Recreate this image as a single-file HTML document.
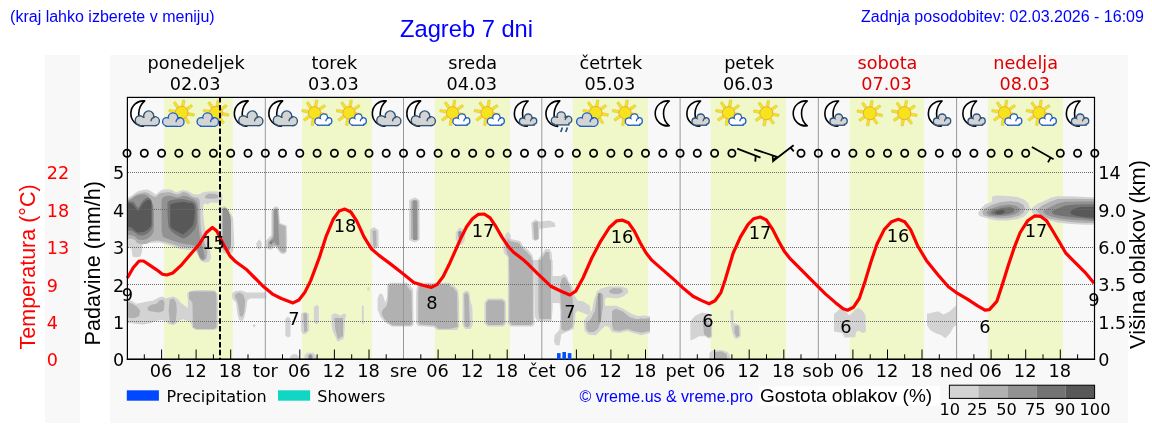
<!DOCTYPE html>
<html><head><meta charset="utf-8"><title>Zagreb 7 dni</title><style>html,body{margin:0;padding:0;background:#fff;width:1152px;height:443px;overflow:hidden}</style></head><body>
<svg width="1152" height="443" viewBox="0 0 1152 443" style="display:block">
<defs><clipPath id="plotclip"><rect x="127.5" y="160" width="966.5" height="199"/></clipPath></defs>
<rect width="1152" height="443" fill="#fff"/>
<text x="10.1" y="21.5" font-family="'Liberation Sans',Arial,sans-serif" font-size="16" fill="#0000ff">(kraj lahko izberete v meniju)</text>
<text x="400" y="37" font-family="'Liberation Sans',Arial,sans-serif" font-size="23.7" fill="#0000ff">Zagreb 7 dni</text>
<text x="861" y="21.5" font-family="'Liberation Sans',Arial,sans-serif" font-size="16" fill="#0000ff">Zadnja posodobitev: 02.03.2026 - 16:09</text>
<rect x="45" y="55" width="35" height="368" fill="#f8f8f8"/>
<rect x="110" y="55" width="1018" height="368" fill="#f8f8f8"/>
<rect x="164.1" y="97.5" width="68.6" height="261.5" fill="#f0f7c8"/>
<rect x="302" y="97.5" width="70.0" height="261.5" fill="#f0f7c8"/>
<rect x="434.8" y="97.5" width="75.1" height="261.5" fill="#f0f7c8"/>
<rect x="572.8" y="97.5" width="75.1" height="261.5" fill="#f0f7c8"/>
<rect x="710.8" y="97.5" width="75.1" height="261.5" fill="#f0f7c8"/>
<rect x="849.8" y="97.5" width="74.1" height="261.5" fill="#f0f7c8"/>
<rect x="987.8" y="97.5" width="75.1" height="261.5" fill="#f0f7c8"/>
<g clip-path="url(#plotclip)"><polygon points="220.9,207.4 224.1,206.0 227.6,208.4 230.6,213.5 233.0,217.6 233.7,230.8 234.3,245.0 232.6,252.1 228.6,254.2 223.5,253.1 220.9,249.1" fill="#d3d3d3"/>
<polygon points="127.0,197.5 130.0,196.8 134.0,194.0 136.5,192.0 139.0,190.8 143.0,190.0 147.0,189.5 150.0,190.5 153.5,193.0 156.0,194.5 159.5,191.5 162.0,189.8 166.0,189.2 170.0,189.4 173.0,190.5 176.0,192.5 179.0,191.3 183.0,190.1 187.0,190.8 190.0,192.2 193.0,194.0 196.0,194.6 199.0,194.6 201.5,193.0 204.0,191.9 208.0,191.4 213.0,191.2 217.5,191.6 219.5,192.5 222.3,194.5 222.4,200.5 220.0,202.8 214.0,202.7 211.0,202.2 207.5,204.5 204.8,203.2 203.5,205.0 203.0,210.0 203.5,217.0 204.5,225.0 205.5,232.0 207.0,240.0 209.0,247.0 210.5,253.0 211.0,258.0 209.0,262.0 205.0,262.5 201.0,261.0 198.0,255.0 196.0,251.0 190.0,250.0 180.0,249.0 172.0,246.0 165.0,244.0 160.0,242.5 152.0,242.8 145.0,243.5 142.5,245.0 142.0,252.0 140.5,256.5 136.0,257.5 132.5,256.5 131.5,248.5 127.0,247.5" fill="#d3d3d3"/>
<polygon points="127.0,299.6 131.1,300.6 136.1,303.7 141.2,302.7 147.3,301.6 153.4,300.6 158.5,297.6 162.6,296.6 165.6,298.6 168.6,297.6 173.7,296.6 177.8,299.0 180.8,302.7 184.9,305.7 187.9,307.7 187.9,299.6 186.9,293.5 190.0,290.9 196.1,290.1 208.3,290.1 214.8,290.5 217.4,293.5 218.0,300.6 218.0,327.0 216.4,329.1 212.3,330.1 196.1,330.1 192.4,328.1 191.0,323.0 187.9,320.9 182.9,318.9 178.8,320.9 175.8,324.0 172.7,325.0 168.6,324.0 165.6,320.9 161.5,319.9 155.4,320.9 151.4,323.0 143.3,324.6 136.1,324.0 131.1,323.0 127.0,323.4" fill="#d3d3d3"/>
<polygon points="271.3,210.2 275.3,206.1 278.7,207.4 280.1,223.0 284.1,224.4 286.8,225.7 287.2,240.6 286.8,251.5 284.1,254.2 280.7,253.5 278.0,250.1 275.3,246.7 272.6,248.8 269.9,250.1 267.2,248.8 265.6,246.0 265.8,240.6 268.5,237.9 271.3,235.2" fill="#d3d3d3"/>
<polygon points="256.4,243.3 259.1,239.3 261.8,242.7 261.5,247.4 259.1,249.4 256.6,247.4" fill="#d3d3d3"/>
<polygon points="232.0,293.5 235.1,290.9 241.2,290.5 246.3,292.5 266.2,292.5 266.6,298.6 250.3,298.6 247.3,300.6 246.3,308.8 244.2,317.9 242.2,320.9 239.1,319.9 237.1,312.8 236.1,302.7 232.4,298.6" fill="#d3d3d3"/>
<polygon points="252.8,325.0 254.4,324.0 255.8,325.4 254.4,327.4 252.8,326.6" fill="#d3d3d3"/>
<polygon points="285.3,318.9 287.9,316.5 290.5,318.9 290.5,336.2 287.9,337.6 285.3,335.6" fill="#d3d3d3"/>
<polygon points="301.1,313.8 304.8,311.8 308.8,313.8 309.2,330.1 306.8,333.5 303.1,334.2 301.1,331.1" fill="#d3d3d3"/>
<polygon points="313.9,306.7 317.0,304.7 318.8,306.7 318.8,323.0 316.3,324.6 313.9,322.0" fill="#d3d3d3"/>
<polygon points="331.6,314.9 334.6,313.2 339.9,314.9 339.9,341.3 337.3,341.3 335.6,337.2 332.6,331.1 331.6,325.0" fill="#d3d3d3"/>
<polygon points="370.1,229.8 374.1,227.1 378.6,230.4 378.6,247.0 375.6,249.1 372.1,248.1 370.1,245.0" fill="#d3d3d3"/>
<polygon points="409.1,200.3 414.8,197.3 419.6,200.3 419.6,239.9 414.8,242.6 409.1,239.9" fill="#d3d3d3"/>
<polygon points="387.1,284.4 389.8,282.8 407.0,282.8 410.1,285.4 413.1,289.5 413.5,325.0 411.1,326.6 391.8,326.6 387.7,324.0 383.7,320.9 380.6,316.9 377.6,309.8 377.6,298.6 379.6,293.5 382.7,294.5 384.7,300.6 385.7,302.7 387.1,296.6" fill="#d3d3d3"/>
<polygon points="417.2,285.4 420.2,282.8 449.9,282.8 449.9,330.1 437.5,330.1 433.5,327.0 418.2,326.0 416.2,323.0 416.2,292.5" fill="#d3d3d3"/>
<polygon points="340.0,315.9 344.1,313.2 346.1,314.9 345.1,318.9 344.1,337.2 342.0,340.2 340.0,339.2" fill="#d3d3d3"/>
<polygon points="361.9,305.7 363.6,305.1 364.0,324.0 361.9,324.0" fill="#d3d3d3"/>
<polygon points="367.4,287.4 369.5,287.4 369.5,290.5 367.4,290.5" fill="#d3d3d3"/>
<polygon points="455.7,232.8 459.1,227.7 463.2,228.8 465.2,233.8 464.6,240.9 461.8,245.0 458.1,244.0 455.7,238.9" fill="#d3d3d3"/>
<polygon points="503.2,247.0 504.9,234.9 507.9,231.8 510.5,234.4 510.9,238.9 520.1,240.9 523.1,246.0 528.2,250.1 532.3,255.2 534.3,263.3 534.9,270.0 507.9,270.0 507.9,257.2 503.8,253.1" fill="#d3d3d3"/>
<polygon points="531.3,222.7 535.3,219.6 539.4,221.6 549.5,220.6 554.6,222.7 555.6,226.7 547.5,227.7 539.4,228.8 539.0,238.9 535.3,240.9 532.3,238.9" fill="#d3d3d3"/>
<polygon points="537.4,260.2 540.4,256.2 545.5,249.1 549.5,249.1 551.6,253.1 552.6,270.0 536.3,270.0" fill="#d3d3d3"/>
<polygon points="450.0,284.4 454.1,285.4 458.1,290.5 459.1,300.6 459.1,327.0 457.1,330.1 450.0,330.1" fill="#d3d3d3"/>
<polygon points="462.6,293.5 465.8,290.5 469.3,292.1 470.3,300.6 472.3,306.7 472.8,325.0 470.3,329.1 465.2,329.1 462.6,325.0" fill="#d3d3d3"/>
<polygon points="484.5,302.7 487.6,298.6 502.8,298.6 505.9,301.6 505.9,324.0 503.2,326.6 487.6,326.6 484.5,323.4" fill="#d3d3d3"/>
<polygon points="507.9,260.0 534.9,260.0 534.3,324.6 532.3,326.6 510.9,326.6 507.9,324.0" fill="#d3d3d3"/>
<polygon points="534.9,260.0 552.6,260.0 552.6,308.8 551.6,320.9 537.4,320.9 534.9,316.9" fill="#d3d3d3"/>
<polygon points="551.5,276.0 561.0,276.0 562.0,290.0 561.0,303.0 551.5,303.0" fill="#d3d3d3"/>
<polygon points="554.6,335.2 557.7,332.1 559.9,332.1 559.9,345.3 555.6,345.3 554.0,341.3" fill="#d3d3d3"/>
<polygon points="560.3,276.3 564.0,273.8 567.4,277.3 568.4,281.3 572.5,286.4 573.5,293.5 577.6,300.6 583.7,301.6 589.8,305.7 590.8,312.8 587.7,314.9 582.7,312.8 577.6,310.8 575.6,312.8 574.9,323.0 573.5,329.1 566.4,332.1 561.3,334.2 560.3,341.3 558.3,345.3 555.2,343.3 555.2,335.2 559.3,330.1 560.3,320.9 560.3,310.8 559.3,300.6 558.3,290.5 559.3,280.3" fill="#d3d3d3"/>
<polygon points="583.7,320.9 586.7,316.9 591.8,310.8 593.8,300.6 596.9,291.5 600.9,288.4 609.1,286.4 621.3,286.4 627.4,288.4 628.4,292.5 623.3,296.6 617.2,298.6 607.0,297.6 605.0,299.6 605.0,305.7 610.1,305.7 616.2,305.7 623.3,308.8 631.4,313.8 637.5,315.9 649.9,315.9 649.9,333.1 641.6,335.2 633.5,333.1 627.4,331.1 619.2,333.1 612.1,332.1 609.1,327.0 605.0,326.0 600.9,330.1 595.9,335.2 588.8,334.8 584.7,331.1" fill="#d3d3d3"/>
<polygon points="640.0,315.9 646.1,315.3 649.1,318.9 649.1,330.1 646.1,333.1 640.0,333.1" fill="#d3d3d3"/>
<polygon points="690.4,320.9 694.9,315.9 702.0,312.4 709.1,313.8 712.1,318.9 712.1,337.2 709.1,338.8 705.0,336.2 698.9,336.2 693.8,339.2 690.4,340.2" fill="#d3d3d3"/>
<polygon points="730.4,311.8 731.8,309.8 733.5,310.8 733.5,323.0 738.5,324.6 740.6,327.0 740.6,336.2 737.5,338.8 734.5,338.2 732.4,333.1 731.0,325.0" fill="#d3d3d3"/>
<polygon points="834.0,314.5 834.7,313.5 839.1,309.4 841.3,305.0 843.5,308.6 845.7,311.6 849.4,315.2 853.0,312.3 855.2,309.4 858.9,307.9 862.6,310.8 865.5,315.2 865.8,332.1 862.6,332.9 858.9,330.7 856.0,332.1 855.2,337.3 844.2,337.6 842.8,332.9 836.9,332.1 834.0,331.4" fill="#d3d3d3"/>
<polygon points="927.0,313.8 933.1,312.4 938.2,311.2 943.3,314.4 949.4,311.8 955.5,305.7 956.5,306.7 956.5,325.0 953.5,327.0 950.4,333.1 945.3,338.2 941.3,335.2 935.2,333.1 930.1,330.1 927.0,325.0" fill="#d3d3d3"/>
<polygon points="978.1,213.2 980.8,208.4 984.9,204.4 991.7,201.7 992.3,196.3 997.1,195.6 1007.9,196.0 1017.4,196.9 1024.2,199.6 1028.2,203.0 1029.6,207.1 1030.3,209.1 1028.2,212.5 1024.2,216.6 1017.4,219.3 1007.9,220.4 997.1,220.6 990.3,219.3 983.5,217.2 979.5,215.9" fill="#d3d3d3"/>
<polygon points="1030.9,209.1 1033.7,206.4 1037.7,203.7 1045.8,200.3 1051.3,197.6 1056.7,196.3 1071.6,196.3 1085.1,196.9 1096.0,197.3 1096.0,224.7 1085.1,224.7 1071.6,224.0 1058.0,222.7 1045.8,219.3 1037.7,215.9 1032.3,213.2" fill="#d3d3d3"/>
<polygon points="709.4,353.1 712.3,350.4 721.5,349.9 727.6,351.9 730.0,355.5 730.0,360.4 709.4,360.4" fill="#d3d3d3"/>
<polygon points="290.3,356.3 293.1,354.0 297.0,354.4 298.9,357.2 298.9,360.1 290.3,360.1" fill="#d3d3d3"/>
<polygon points="304.6,355.3 307.5,352.8 313.2,352.8 316.1,356.3 316.1,360.1 304.6,360.1" fill="#d3d3d3"/>
<polygon points="205.2,195.8 208.3,193.8 214.4,193.8 218.0,195.2 218.0,197.9 213.3,198.7 208.3,198.7 205.2,197.9" fill="#b1b1b1"/>
<polygon points="127.0,199.5 131.0,198.0 134.5,195.5 137.0,194.0 140.0,193.0 145.0,192.3 148.0,193.0 151.0,195.0 153.5,196.5 156.0,197.0 158.5,194.5 161.0,193.0 165.0,192.5 170.0,192.3 174.0,193.5 177.0,194.5 180.0,193.8 183.0,192.0 187.0,192.8 190.0,195.0 193.0,197.0 196.0,197.5 198.0,198.0 199.5,200.0 200.0,204.0 200.3,212.0 200.5,222.0 201.0,230.0 203.0,238.0 205.5,245.0 207.5,252.0 206.5,259.0 203.0,261.0 200.0,259.0 197.5,253.0 195.0,248.0 188.0,247.5 180.0,246.5 172.0,244.0 165.0,242.0 158.0,240.5 152.0,241.0 146.0,244.0 140.0,244.0 137.0,243.0 135.0,240.0 131.0,238.5 127.0,239.0" fill="#b1b1b1"/>
<polygon points="127.0,301.6 132.1,303.7 137.2,306.7 140.2,310.8 139.2,315.9 135.1,317.9 130.0,317.9 127.0,316.9" fill="#b1b1b1"/>
<polygon points="147.3,307.7 151.4,304.7 156.5,303.7 159.5,300.6 163.2,299.6 164.6,303.7 163.6,310.8 159.5,312.4 153.4,311.8 148.3,310.8" fill="#b1b1b1"/>
<polygon points="169.7,299.6 173.7,298.6 176.2,302.7 176.8,310.8 175.8,320.9 172.7,324.0 169.7,320.9 168.6,310.8" fill="#b1b1b1"/>
<polygon points="189.0,292.5 192.0,291.5 214.4,291.5 216.4,293.5 216.4,327.0 214.4,329.1 196.1,329.1 193.0,327.0 192.4,302.7 189.0,298.6" fill="#b1b1b1"/>
<polygon points="272.6,210.2 275.6,207.9 278.0,208.8 279.1,223.7 281.4,225.1 285.5,226.4 285.9,251.5 282.8,252.8 280.1,250.8 277.3,246.7 274.6,245.4 269.9,248.1 267.9,246.7 267.9,242.0 271.3,238.6 272.6,235.9" fill="#b1b1b1"/>
<polygon points="235.1,294.5 239.1,292.5 243.2,294.5 245.2,300.6 244.2,312.8 242.2,316.9 239.8,315.9 238.5,306.7 237.1,300.6 235.1,297.6" fill="#b1b1b1"/>
<polygon points="303.5,313.8 306.8,313.2 307.2,331.1 304.2,332.1 303.5,320.9" fill="#b1b1b1"/>
<polygon points="334.6,317.9 339.9,317.9 339.9,339.2 337.7,338.2 335.2,329.1" fill="#b1b1b1"/>
<polygon points="372.5,230.8 376.2,230.4 376.6,246.0 373.5,247.0" fill="#b1b1b1"/>
<polygon points="411.1,201.3 418.2,201.3 418.2,238.9 411.1,238.9" fill="#b1b1b1"/>
<polygon points="388.8,284.8 406.0,284.4 408.1,287.4 411.5,291.5 412.1,324.0 410.1,325.4 392.8,325.4 388.8,323.0 384.3,318.9 381.6,313.8 382.7,309.8 386.3,306.3 387.7,301.6" fill="#b1b1b1"/>
<polygon points="418.8,286.4 421.3,284.4 449.9,284.4 449.9,328.7 438.5,328.7 434.5,325.4 419.6,324.6 418.2,322.0 418.2,292.5" fill="#b1b1b1"/>
<polygon points="340.0,317.9 343.0,317.9 343.0,336.2 340.0,337.2" fill="#b1b1b1"/>
<polygon points="505.9,247.0 507.9,237.9 509.9,240.9 519.1,243.0 522.1,248.1 526.8,252.1 531.3,257.2 532.9,270.0 509.3,270.0 508.9,257.2 506.9,253.1" fill="#b1b1b1"/>
<polygon points="533.3,222.7 537.8,221.6 538.4,238.9 534.3,239.9" fill="#b1b1b1"/>
<polygon points="540.4,261.3 545.5,252.1 549.1,252.1 551.0,270.0 539.4,270.0" fill="#b1b1b1"/>
<polygon points="450.0,286.4 453.0,287.4 457.1,292.5 457.7,327.0 450.0,328.7" fill="#b1b1b1"/>
<polygon points="464.2,294.5 466.7,292.5 468.7,295.6 469.9,325.0 467.9,327.4 464.6,326.0" fill="#b1b1b1"/>
<polygon points="486.2,303.1 488.6,300.2 502.4,300.2 504.4,302.7 504.4,323.0 502.4,325.0 488.6,325.0 486.2,323.0" fill="#b1b1b1"/>
<polygon points="509.3,260.0 532.9,260.0 532.9,323.0 530.9,325.0 512.0,325.0 509.3,322.0" fill="#b1b1b1"/>
<polygon points="538.4,260.0 551.0,260.0 551.0,318.9 539.4,318.9 538.4,312.8" fill="#b1b1b1"/>
<polygon points="561.9,278.3 564.8,277.3 567.4,281.3 570.5,287.4 572.1,294.5 573.5,310.8 572.5,327.0 568.4,330.1 564.4,331.1 561.3,329.1 561.3,310.8 560.3,296.6 560.3,284.4" fill="#b1b1b1"/>
<polygon points="586.3,323.0 590.8,318.9 594.9,310.8 596.9,296.6 599.9,292.5 603.0,294.5 603.0,306.7 600.9,320.9 597.9,329.1 593.8,332.1 588.8,332.1 586.3,329.1" fill="#b1b1b1"/>
<polygon points="609.1,290.5 613.1,288.0 621.3,288.4 623.3,291.5 619.2,294.1 613.1,294.1 609.5,292.5" fill="#b1b1b1"/>
<polygon points="612.1,310.8 616.2,308.8 623.3,311.8 629.4,316.9 635.5,318.9 641.6,318.9 649.9,317.9 649.9,331.1 641.6,332.7 633.5,331.1 627.4,329.1 619.2,331.1 613.5,330.1 612.1,325.0" fill="#b1b1b1"/>
<polygon points="640.0,317.9 647.7,319.9 647.7,330.1 640.0,331.1" fill="#b1b1b1"/>
<polygon points="703.0,323.0 707.0,322.0 711.1,325.0 711.1,336.2 708.1,337.2 704.0,334.2" fill="#b1b1b1"/>
<polygon points="734.5,326.0 738.5,325.4 739.5,335.2 736.5,337.2 734.5,333.1" fill="#b1b1b1"/>
<polygon points="982.2,211.8 984.9,208.4 991.7,205.1 999.8,202.3 1010.6,201.0 1018.8,202.3 1023.5,205.1 1024.9,208.4 1023.5,212.5 1018.8,215.9 1010.6,217.9 999.8,218.6 990.3,217.2 983.5,215.2" fill="#b1b1b1"/>
<polygon points="1036.4,210.5 1041.8,205.7 1049.9,201.7 1058.0,199.0 1071.6,198.7 1085.1,199.0 1096.0,199.0 1096.0,223.1 1085.1,223.1 1072.9,222.3 1059.4,220.6 1048.6,218.6 1040.4,215.2" fill="#b1b1b1"/>
<polygon points="714.2,351.9 721.5,351.4 726.4,353.8 727.6,360.4 714.2,360.4" fill="#b1b1b1"/>
<polygon points="222.5,208.4 225.5,207.4 228.2,210.5 230.2,215.6 231.0,220.6 231.0,245.0 229.6,250.1 225.5,251.1 222.5,248.1" fill="#929292"/>
<polygon points="127.0,200.5 131.0,199.5 134.0,197.0 137.0,195.5 141.0,194.6 145.0,194.6 148.0,196.0 150.0,199.0 152.0,202.0 153.5,206.0 154.0,215.0 154.0,225.0 153.5,232.0 151.0,236.0 147.0,239.0 143.0,240.0 138.0,239.5 135.0,236.5 131.0,235.0 127.0,235.0" fill="#929292"/>
<polygon points="161.5,200.0 163.0,197.3 166.0,196.0 170.0,195.8 174.0,196.8 177.0,197.5 180.0,197.0 183.0,195.5 187.0,196.2 191.0,198.0 194.0,199.5 196.5,201.5 198.0,205.0 198.2,212.0 198.3,222.0 199.0,230.0 200.0,238.0 202.0,245.0 204.0,252.0 204.8,258.0 202.5,260.0 199.5,257.0 197.5,250.0 195.5,246.0 190.0,244.5 182.0,243.5 175.0,241.5 168.0,239.0 163.0,237.0 161.5,230.0 161.5,215.0" fill="#929292"/>
<polygon points="274.0,209.5 277.3,209.2 278.3,224.4 279.4,244.7 277.3,245.4 274.0,242.0 271.3,244.7 269.2,243.3 270.6,240.6 273.3,238.6 274.0,233.9" fill="#929292"/>
<polygon points="412.7,200.3 416.8,200.3 417.2,239.9 413.1,239.9" fill="#929292"/>
<polygon points="458.1,231.8 461.2,230.8 462.6,234.9 461.2,238.9 458.5,237.9" fill="#929292"/>
<polygon points="597.9,293.5 600.5,292.9 600.9,322.0 598.3,322.6" fill="#929292"/>
<polygon points="986.3,212.5 990.3,209.1 999.8,205.7 1009.3,204.4 1016.0,205.7 1020.1,208.4 1019.4,211.8 1014.7,214.5 1006.6,215.9 997.1,216.6 989.0,215.5" fill="#929292"/>
<polygon points="1043.1,211.2 1048.6,207.8 1056.7,203.7 1064.8,201.7 1078.4,201.4 1096.0,201.4 1096.0,221.3 1085.1,220.6 1072.9,220.0 1060.7,218.6 1051.3,216.6 1045.8,214.5" fill="#929292"/>
<polygon points="308.4,355.3 310.7,354.0 312.6,355.9 312.2,360.1 308.4,360.1" fill="#929292"/>
<polygon points="127.0,202.0 131.0,201.5 134.0,202.0 136.0,205.5 138.0,208.0 139.5,206.0 141.5,202.5 144.0,199.5 147.0,197.5 149.5,198.0 151.5,200.5 152.5,206.0 152.5,215.0 152.5,226.0 151.0,230.0 147.5,233.5 143.0,235.5 138.0,235.0 135.0,232.5 131.0,230.5 127.0,230.5" fill="#737373"/>
<polygon points="167.5,202.0 170.0,200.2 175.0,199.5 180.0,199.0 184.0,199.3 188.0,200.3 192.0,201.0 195.0,203.0 196.5,207.0 196.7,215.0 196.5,224.0 195.0,229.0 191.5,233.0 187.0,237.0 183.0,238.5 179.0,236.5 175.0,234.0 171.0,231.0 168.5,227.0 167.5,215.0" fill="#737373"/>
<polygon points="269.6,242.3 271.0,241.4 272.1,242.8 271.0,244.2" fill="#737373"/>
<polygon points="990.3,212.5 994.4,209.8 1002.5,207.8 1010.6,207.1 1014.7,209.1 1013.3,212.5 1007.9,213.9 999.8,214.9 993.0,214.5" fill="#737373"/>
<polygon points="1051.3,211.8 1058.0,208.4 1064.8,205.7 1075.6,204.4 1096.0,204.1 1096.0,220.0 1085.1,218.6 1072.9,217.2 1062.1,215.9 1054.0,214.5" fill="#737373"/>
<polygon points="127.0,203.1 131.5,203.5 133.5,205.0 136.0,208.5 138.3,210.8 140.5,207.5 143.0,203.5 146.0,200.8 148.5,199.8 150.2,200.5 151.3,203.0 151.4,210.0 151.4,224.0 150.5,226.7 147.8,229.4 144.0,232.1 138.0,232.6 136.0,231.7 131.5,227.2 127.0,226.7" fill="#585858"/>
<polygon points="170.3,204.2 175.0,203.1 180.0,202.2 184.0,201.8 187.6,202.7 192.2,203.1 194.4,205.4 194.9,211.3 194.0,220.3 192.6,226.0 189.5,229.0 186.0,232.0 183.1,234.4 180.0,233.0 176.0,231.0 172.0,228.5 170.3,226.0" fill="#585858"/>
<polygon points="994.4,212.5 997.8,210.5 1003.2,209.5 1005.2,211.8 1002.5,213.9 997.1,214.5" fill="#585858"/>
<polygon points="1070.2,211.8 1074.3,208.4 1081.1,207.1 1096.0,207.1 1096.0,217.9 1086.5,217.2 1077.0,215.9 1071.6,214.5" fill="#585858"/></g>
<line x1="265.3" y1="97" x2="265.3" y2="359" stroke="#999" stroke-width="1"/>
<line x1="403.5" y1="97" x2="403.5" y2="359" stroke="#999" stroke-width="1"/>
<line x1="541.8" y1="97" x2="541.8" y2="359" stroke="#999" stroke-width="1"/>
<line x1="680.1" y1="97" x2="680.1" y2="359" stroke="#999" stroke-width="1"/>
<line x1="818.3" y1="97" x2="818.3" y2="359" stroke="#999" stroke-width="1"/>
<line x1="956.6" y1="97" x2="956.6" y2="359" stroke="#999" stroke-width="1"/>
<line x1="128" y1="321.5" x2="1094" y2="321.5" stroke="#6a6a6a" stroke-width="1" stroke-dasharray="1 1"/>
<line x1="128" y1="284.5" x2="1094" y2="284.5" stroke="#6a6a6a" stroke-width="1" stroke-dasharray="1 1"/>
<line x1="128" y1="247.5" x2="1094" y2="247.5" stroke="#6a6a6a" stroke-width="1" stroke-dasharray="1 1"/>
<line x1="128" y1="209.5" x2="1094" y2="209.5" stroke="#6a6a6a" stroke-width="1" stroke-dasharray="1 1"/>
<line x1="128" y1="172.5" x2="1094" y2="172.5" stroke="#6a6a6a" stroke-width="1" stroke-dasharray="1 1"/>
<polyline fill="none" stroke="#ff0000" stroke-width="3.2" stroke-linejoin="round" points="127.3,278.0 133.2,267.7 139.1,261.0 143.5,261.0 149.3,264.8 156.7,269.8 162.5,274.2 166.9,275.0 172.8,273.0 181.6,264.8 190.4,254.5 199.2,244.3 206.5,232.5 212.4,227.5 216.8,231.0 222.6,242.8 230.0,256.0 235.8,261.8 246.1,269.2 254.9,278.0 263.7,286.8 272.5,294.1 281.3,298.5 293.0,302.9 298.9,300.0 304.7,292.6 310.6,280.9 319.4,257.4 325.9,236.9 333.2,219.3 339.1,211.1 344.9,209.1 350.8,212.0 356.7,220.8 364.0,236.9 371.3,248.7 378.7,255.1 390.4,263.9 402.1,273.0 413.8,282.4 422.6,285.3 431.4,287.4 437.3,284.4 443.2,276.5 449.0,264.8 454.9,251.6 460.8,238.4 466.6,226.7 472.5,218.7 478.4,214.3 484.2,214.0 490.1,217.9 496.0,226.7 501.8,236.9 507.7,245.7 513.5,252.2 522.3,258.9 528.8,264.8 537.6,273.6 550.8,286.2 561.1,291.2 569.9,295.0 575.7,291.2 583.0,278.0 591.8,258.0 600.6,241.3 609.4,227.5 616.8,220.8 622.6,220.2 628.5,222.8 634.4,231.1 640.2,242.8 646.1,253.0 652.0,260.4 663.7,270.6 675.4,280.9 684.2,289.1 693.0,296.2 701.8,300.6 709.1,303.8 715.0,300.8 720.9,292.6 725.3,279.4 733.2,253.0 740.5,236.9 747.9,224.6 753.7,218.7 760.2,217.0 766.3,219.9 772.8,229.6 778.7,241.3 784.5,251.6 790.4,258.9 802.1,270.6 813.8,282.4 825.6,294.1 835.8,302.9 843.2,308.8 847.6,310.2 853.4,307.3 859.3,298.5 865.2,280.9 871.0,261.8 876.9,244.3 884.2,229.6 891.6,221.7 898.3,219.3 904.7,221.7 910.6,229.6 917.6,245.7 926.4,260.4 938.1,275.0 948.4,286.8 957.2,293.2 967.4,299.1 977.7,305.8 985.0,310.2 989.4,309.6 996.8,301.4 1002.6,283.8 1008.5,264.8 1014.4,247.2 1020.2,232.5 1027.6,220.8 1034.9,215.8 1040.8,216.4 1046.6,220.8 1052.5,230.5 1059.8,242.8 1065.7,253.0 1076.0,263.3 1084.8,272.1 1094.1,283.3"/>
<text transform="translate(127.5,301) scale(1.05,1)" font-family="'DejaVu Sans',sans-serif" font-size="17" text-anchor="middle" fill="#000">9</text>
<text transform="translate(213.5,248.7) scale(1.05,1)" font-family="'DejaVu Sans',sans-serif" font-size="17" text-anchor="middle" fill="#000">15</text>
<text transform="translate(294,325) scale(1.05,1)" font-family="'DejaVu Sans',sans-serif" font-size="17" text-anchor="middle" fill="#000">7</text>
<text transform="translate(345,232) scale(1.05,1)" font-family="'DejaVu Sans',sans-serif" font-size="17" text-anchor="middle" fill="#000">18</text>
<text transform="translate(432,309) scale(1.05,1)" font-family="'DejaVu Sans',sans-serif" font-size="17" text-anchor="middle" fill="#000">8</text>
<text transform="translate(483,237) scale(1.05,1)" font-family="'DejaVu Sans',sans-serif" font-size="17" text-anchor="middle" fill="#000">17</text>
<text transform="translate(570,318) scale(1.05,1)" font-family="'DejaVu Sans',sans-serif" font-size="17" text-anchor="middle" fill="#000">7</text>
<text transform="translate(622,243) scale(1.05,1)" font-family="'DejaVu Sans',sans-serif" font-size="17" text-anchor="middle" fill="#000">16</text>
<text transform="translate(708,327) scale(1.05,1)" font-family="'DejaVu Sans',sans-serif" font-size="17" text-anchor="middle" fill="#000">6</text>
<text transform="translate(760,239) scale(1.05,1)" font-family="'DejaVu Sans',sans-serif" font-size="17" text-anchor="middle" fill="#000">17</text>
<text transform="translate(846,333) scale(1.05,1)" font-family="'DejaVu Sans',sans-serif" font-size="17" text-anchor="middle" fill="#000">6</text>
<text transform="translate(898,242) scale(1.05,1)" font-family="'DejaVu Sans',sans-serif" font-size="17" text-anchor="middle" fill="#000">16</text>
<text transform="translate(985,333) scale(1.05,1)" font-family="'DejaVu Sans',sans-serif" font-size="17" text-anchor="middle" fill="#000">6</text>
<text transform="translate(1036,237) scale(1.05,1)" font-family="'DejaVu Sans',sans-serif" font-size="17" text-anchor="middle" fill="#000">17</text>
<text transform="translate(1094,305.8) scale(1.05,1)" font-family="'DejaVu Sans',sans-serif" font-size="17" text-anchor="middle" fill="#000">9</text>
<rect x="127.4" y="97.4" width="967.1" height="261.8" fill="none" stroke="#000" stroke-width="1.2"/>
<line x1="126.8" y1="359.3" x2="1095.1" y2="359.3" stroke="#000" stroke-width="1.3"/>
<line x1="144.3" y1="354.3" x2="144.3" y2="359" stroke="#000" stroke-width="1"/>
<line x1="161.6" y1="349.5" x2="161.6" y2="359" stroke="#000" stroke-width="1"/>
<line x1="178.8" y1="354.3" x2="178.8" y2="359" stroke="#000" stroke-width="1"/>
<line x1="196.1" y1="349.5" x2="196.1" y2="359" stroke="#000" stroke-width="1"/>
<line x1="213.4" y1="354.3" x2="213.4" y2="359" stroke="#000" stroke-width="1"/>
<line x1="230.7" y1="349.5" x2="230.7" y2="359" stroke="#000" stroke-width="1"/>
<line x1="248.0" y1="354.3" x2="248.0" y2="359" stroke="#000" stroke-width="1"/>
<line x1="282.5" y1="354.3" x2="282.5" y2="359" stroke="#000" stroke-width="1"/>
<line x1="299.8" y1="349.5" x2="299.8" y2="359" stroke="#000" stroke-width="1"/>
<line x1="317.1" y1="354.3" x2="317.1" y2="359" stroke="#000" stroke-width="1"/>
<line x1="334.4" y1="349.5" x2="334.4" y2="359" stroke="#000" stroke-width="1"/>
<line x1="351.7" y1="354.3" x2="351.7" y2="359" stroke="#000" stroke-width="1"/>
<line x1="369.0" y1="349.5" x2="369.0" y2="359" stroke="#000" stroke-width="1"/>
<line x1="386.2" y1="354.3" x2="386.2" y2="359" stroke="#000" stroke-width="1"/>
<line x1="420.8" y1="354.3" x2="420.8" y2="359" stroke="#000" stroke-width="1"/>
<line x1="438.1" y1="349.5" x2="438.1" y2="359" stroke="#000" stroke-width="1"/>
<line x1="455.4" y1="354.3" x2="455.4" y2="359" stroke="#000" stroke-width="1"/>
<line x1="472.7" y1="349.5" x2="472.7" y2="359" stroke="#000" stroke-width="1"/>
<line x1="489.9" y1="354.3" x2="489.9" y2="359" stroke="#000" stroke-width="1"/>
<line x1="507.2" y1="349.5" x2="507.2" y2="359" stroke="#000" stroke-width="1"/>
<line x1="524.5" y1="354.3" x2="524.5" y2="359" stroke="#000" stroke-width="1"/>
<line x1="559.1" y1="354.3" x2="559.1" y2="359" stroke="#000" stroke-width="1"/>
<line x1="576.4" y1="349.5" x2="576.4" y2="359" stroke="#000" stroke-width="1"/>
<line x1="593.6" y1="354.3" x2="593.6" y2="359" stroke="#000" stroke-width="1"/>
<line x1="610.9" y1="349.5" x2="610.9" y2="359" stroke="#000" stroke-width="1"/>
<line x1="628.2" y1="354.3" x2="628.2" y2="359" stroke="#000" stroke-width="1"/>
<line x1="645.5" y1="349.5" x2="645.5" y2="359" stroke="#000" stroke-width="1"/>
<line x1="662.8" y1="354.3" x2="662.8" y2="359" stroke="#000" stroke-width="1"/>
<line x1="697.3" y1="354.3" x2="697.3" y2="359" stroke="#000" stroke-width="1"/>
<line x1="714.6" y1="349.5" x2="714.6" y2="359" stroke="#000" stroke-width="1"/>
<line x1="731.9" y1="354.3" x2="731.9" y2="359" stroke="#000" stroke-width="1"/>
<line x1="749.2" y1="349.5" x2="749.2" y2="359" stroke="#000" stroke-width="1"/>
<line x1="766.5" y1="354.3" x2="766.5" y2="359" stroke="#000" stroke-width="1"/>
<line x1="783.8" y1="349.5" x2="783.8" y2="359" stroke="#000" stroke-width="1"/>
<line x1="801.0" y1="354.3" x2="801.0" y2="359" stroke="#000" stroke-width="1"/>
<line x1="835.6" y1="354.3" x2="835.6" y2="359" stroke="#000" stroke-width="1"/>
<line x1="852.9" y1="349.5" x2="852.9" y2="359" stroke="#000" stroke-width="1"/>
<line x1="870.2" y1="354.3" x2="870.2" y2="359" stroke="#000" stroke-width="1"/>
<line x1="887.5" y1="349.5" x2="887.5" y2="359" stroke="#000" stroke-width="1"/>
<line x1="904.7" y1="354.3" x2="904.7" y2="359" stroke="#000" stroke-width="1"/>
<line x1="922.0" y1="349.5" x2="922.0" y2="359" stroke="#000" stroke-width="1"/>
<line x1="939.3" y1="354.3" x2="939.3" y2="359" stroke="#000" stroke-width="1"/>
<line x1="973.9" y1="354.3" x2="973.9" y2="359" stroke="#000" stroke-width="1"/>
<line x1="991.1" y1="349.5" x2="991.1" y2="359" stroke="#000" stroke-width="1"/>
<line x1="1008.4" y1="354.3" x2="1008.4" y2="359" stroke="#000" stroke-width="1"/>
<line x1="1025.7" y1="349.5" x2="1025.7" y2="359" stroke="#000" stroke-width="1"/>
<line x1="1043.0" y1="354.3" x2="1043.0" y2="359" stroke="#000" stroke-width="1"/>
<line x1="1060.3" y1="349.5" x2="1060.3" y2="359" stroke="#000" stroke-width="1"/>
<line x1="1077.6" y1="354.3" x2="1077.6" y2="359" stroke="#000" stroke-width="1"/>
<text transform="translate(161.1,376.8) scale(1.035,1)" font-family="'DejaVu Sans',sans-serif" font-size="17.2" text-anchor="middle">06</text>
<text transform="translate(195.6,376.8) scale(1.035,1)" font-family="'DejaVu Sans',sans-serif" font-size="17.2" text-anchor="middle">12</text>
<text transform="translate(230.2,376.8) scale(1.035,1)" font-family="'DejaVu Sans',sans-serif" font-size="17.2" text-anchor="middle">18</text>
<text transform="translate(299.3,376.8) scale(1.035,1)" font-family="'DejaVu Sans',sans-serif" font-size="17.2" text-anchor="middle">06</text>
<text transform="translate(333.9,376.8) scale(1.035,1)" font-family="'DejaVu Sans',sans-serif" font-size="17.2" text-anchor="middle">12</text>
<text transform="translate(368.5,376.8) scale(1.035,1)" font-family="'DejaVu Sans',sans-serif" font-size="17.2" text-anchor="middle">18</text>
<text transform="translate(265.3,376.8) scale(1.035,1)" font-family="'DejaVu Sans',sans-serif" font-size="17.2" text-anchor="middle">tor</text>
<text transform="translate(437.6,376.8) scale(1.035,1)" font-family="'DejaVu Sans',sans-serif" font-size="17.2" text-anchor="middle">06</text>
<text transform="translate(472.2,376.8) scale(1.035,1)" font-family="'DejaVu Sans',sans-serif" font-size="17.2" text-anchor="middle">12</text>
<text transform="translate(506.7,376.8) scale(1.035,1)" font-family="'DejaVu Sans',sans-serif" font-size="17.2" text-anchor="middle">18</text>
<text transform="translate(403.5,376.8) scale(1.035,1)" font-family="'DejaVu Sans',sans-serif" font-size="17.2" text-anchor="middle">sre</text>
<text transform="translate(575.9,376.8) scale(1.035,1)" font-family="'DejaVu Sans',sans-serif" font-size="17.2" text-anchor="middle">06</text>
<text transform="translate(610.4,376.8) scale(1.035,1)" font-family="'DejaVu Sans',sans-serif" font-size="17.2" text-anchor="middle">12</text>
<text transform="translate(645.0,376.8) scale(1.035,1)" font-family="'DejaVu Sans',sans-serif" font-size="17.2" text-anchor="middle">18</text>
<text transform="translate(541.8,376.8) scale(1.035,1)" font-family="'DejaVu Sans',sans-serif" font-size="17.2" text-anchor="middle">čet</text>
<text transform="translate(714.1,376.8) scale(1.035,1)" font-family="'DejaVu Sans',sans-serif" font-size="17.2" text-anchor="middle">06</text>
<text transform="translate(748.7,376.8) scale(1.035,1)" font-family="'DejaVu Sans',sans-serif" font-size="17.2" text-anchor="middle">12</text>
<text transform="translate(783.3,376.8) scale(1.035,1)" font-family="'DejaVu Sans',sans-serif" font-size="17.2" text-anchor="middle">18</text>
<text transform="translate(680.1,376.8) scale(1.035,1)" font-family="'DejaVu Sans',sans-serif" font-size="17.2" text-anchor="middle">pet</text>
<text transform="translate(852.4,376.8) scale(1.035,1)" font-family="'DejaVu Sans',sans-serif" font-size="17.2" text-anchor="middle">06</text>
<text transform="translate(887.0,376.8) scale(1.035,1)" font-family="'DejaVu Sans',sans-serif" font-size="17.2" text-anchor="middle">12</text>
<text transform="translate(921.5,376.8) scale(1.035,1)" font-family="'DejaVu Sans',sans-serif" font-size="17.2" text-anchor="middle">18</text>
<text transform="translate(818.3,376.8) scale(1.035,1)" font-family="'DejaVu Sans',sans-serif" font-size="17.2" text-anchor="middle">sob</text>
<text transform="translate(990.6,376.8) scale(1.035,1)" font-family="'DejaVu Sans',sans-serif" font-size="17.2" text-anchor="middle">06</text>
<text transform="translate(1025.2,376.8) scale(1.035,1)" font-family="'DejaVu Sans',sans-serif" font-size="17.2" text-anchor="middle">12</text>
<text transform="translate(1059.8,376.8) scale(1.035,1)" font-family="'DejaVu Sans',sans-serif" font-size="17.2" text-anchor="middle">18</text>
<text transform="translate(956.6,376.8) scale(1.035,1)" font-family="'DejaVu Sans',sans-serif" font-size="17.2" text-anchor="middle">ned</text>
<text transform="translate(124.2,366.4) scale(1.03,1)" font-family="'DejaVu Sans',sans-serif" font-size="17.1" text-anchor="end">0</text>
<text transform="translate(124.2,329.0) scale(1.03,1)" font-family="'DejaVu Sans',sans-serif" font-size="17.1" text-anchor="end">1</text>
<text transform="translate(124.2,291.5) scale(1.03,1)" font-family="'DejaVu Sans',sans-serif" font-size="17.1" text-anchor="end">2</text>
<text transform="translate(124.2,254.1) scale(1.03,1)" font-family="'DejaVu Sans',sans-serif" font-size="17.1" text-anchor="end">3</text>
<text transform="translate(124.2,216.6) scale(1.03,1)" font-family="'DejaVu Sans',sans-serif" font-size="17.1" text-anchor="end">4</text>
<text transform="translate(124.2,179.2) scale(1.03,1)" font-family="'DejaVu Sans',sans-serif" font-size="17.1" text-anchor="end">5</text>
<text transform="translate(46.8,366.4) scale(1.03,1)" font-family="'DejaVu Sans',sans-serif" font-size="17.1" fill="#ff0000">0</text>
<text transform="translate(46.8,329.0) scale(1.03,1)" font-family="'DejaVu Sans',sans-serif" font-size="17.1" fill="#ff0000">4</text>
<text transform="translate(46.8,291.5) scale(1.03,1)" font-family="'DejaVu Sans',sans-serif" font-size="17.1" fill="#ff0000">9</text>
<text transform="translate(46.8,254.1) scale(1.03,1)" font-family="'DejaVu Sans',sans-serif" font-size="17.1" fill="#ff0000">13</text>
<text transform="translate(46.8,216.6) scale(1.03,1)" font-family="'DejaVu Sans',sans-serif" font-size="17.1" fill="#ff0000">18</text>
<text transform="translate(46.8,179.2) scale(1.03,1)" font-family="'DejaVu Sans',sans-serif" font-size="17.1" fill="#ff0000">22</text>
<text transform="translate(1098.3,366.3) scale(1.03,1)" font-family="'DejaVu Sans',sans-serif" font-size="17.1">0</text>
<text transform="translate(1098.3,328.9) scale(1.03,1)" font-family="'DejaVu Sans',sans-serif" font-size="17.1">1.5</text>
<text transform="translate(1098.3,291.4) scale(1.03,1)" font-family="'DejaVu Sans',sans-serif" font-size="17.1">3.5</text>
<text transform="translate(1098.3,254.0) scale(1.03,1)" font-family="'DejaVu Sans',sans-serif" font-size="17.1">6.0</text>
<text transform="translate(1098.3,216.5) scale(1.03,1)" font-family="'DejaVu Sans',sans-serif" font-size="17.1">9.0</text>
<text transform="translate(1098.3,179.1) scale(1.03,1)" font-family="'DejaVu Sans',sans-serif" font-size="17.1">14</text>
<text transform="translate(35.2,266.9) rotate(-90)" font-family="'Liberation Sans',Arial,sans-serif" font-size="21.5" fill="#ff0000" text-anchor="middle">Temperatura (°C)</text>
<text transform="translate(99.8,263.2) rotate(-90)" font-family="'Liberation Sans',Arial,sans-serif" font-size="21.6" text-anchor="middle">Padavine (mm/h)</text>
<text transform="translate(1145.2,254.5) rotate(-90)" font-family="'Liberation Sans',Arial,sans-serif" font-size="21.7" text-anchor="middle">Višina oblakov (km)</text>
<text transform="translate(196.1,69.4) scale(1.04,1)" font-family="'DejaVu Sans',sans-serif" font-size="17" text-anchor="middle" fill="#000">ponedeljek</text>
<text transform="translate(195.1,89.6) scale(1.04,1)" font-family="'DejaVu Sans',sans-serif" font-size="17" text-anchor="middle" fill="#000">02.03</text>
<text transform="translate(334.4,69.4) scale(1.04,1)" font-family="'DejaVu Sans',sans-serif" font-size="17" text-anchor="middle" fill="#000">torek</text>
<text transform="translate(333.4,89.6) scale(1.04,1)" font-family="'DejaVu Sans',sans-serif" font-size="17" text-anchor="middle" fill="#000">03.03</text>
<text transform="translate(472.7,69.4) scale(1.04,1)" font-family="'DejaVu Sans',sans-serif" font-size="17" text-anchor="middle" fill="#000">sreda</text>
<text transform="translate(471.7,89.6) scale(1.04,1)" font-family="'DejaVu Sans',sans-serif" font-size="17" text-anchor="middle" fill="#000">04.03</text>
<text transform="translate(610.9,69.4) scale(1.04,1)" font-family="'DejaVu Sans',sans-serif" font-size="17" text-anchor="middle" fill="#000">četrtek</text>
<text transform="translate(609.9,89.6) scale(1.04,1)" font-family="'DejaVu Sans',sans-serif" font-size="17" text-anchor="middle" fill="#000">05.03</text>
<text transform="translate(749.2,69.4) scale(1.04,1)" font-family="'DejaVu Sans',sans-serif" font-size="17" text-anchor="middle" fill="#000">petek</text>
<text transform="translate(748.2,89.6) scale(1.04,1)" font-family="'DejaVu Sans',sans-serif" font-size="17" text-anchor="middle" fill="#000">06.03</text>
<text transform="translate(887.5,69.4) scale(1.04,1)" font-family="'DejaVu Sans',sans-serif" font-size="17" text-anchor="middle" fill="#dd0000">sobota</text>
<text transform="translate(886.5,89.6) scale(1.04,1)" font-family="'DejaVu Sans',sans-serif" font-size="17" text-anchor="middle" fill="#dd0000">07.03</text>
<text transform="translate(1025.7,69.4) scale(1.04,1)" font-family="'DejaVu Sans',sans-serif" font-size="17" text-anchor="middle" fill="#dd0000">nedelja</text>
<text transform="translate(1024.7,89.6) scale(1.04,1)" font-family="'DejaVu Sans',sans-serif" font-size="17" text-anchor="middle" fill="#dd0000">08.03</text>
<circle cx="127.0" cy="153.2" r="3.6" fill="none" stroke="#000" stroke-width="1.8"/>
<circle cx="144.3" cy="153.2" r="3.6" fill="none" stroke="#000" stroke-width="1.8"/>
<circle cx="161.6" cy="153.2" r="3.6" fill="none" stroke="#000" stroke-width="1.8"/>
<circle cx="178.8" cy="153.2" r="3.6" fill="none" stroke="#000" stroke-width="1.8"/>
<circle cx="196.1" cy="153.2" r="3.6" fill="none" stroke="#000" stroke-width="1.8"/>
<circle cx="213.4" cy="153.2" r="3.6" fill="none" stroke="#000" stroke-width="1.8"/>
<circle cx="230.7" cy="153.2" r="3.6" fill="none" stroke="#000" stroke-width="1.8"/>
<circle cx="248.0" cy="153.2" r="3.6" fill="none" stroke="#000" stroke-width="1.8"/>
<circle cx="265.3" cy="153.2" r="3.6" fill="none" stroke="#000" stroke-width="1.8"/>
<circle cx="282.5" cy="153.2" r="3.6" fill="none" stroke="#000" stroke-width="1.8"/>
<circle cx="299.8" cy="153.2" r="3.6" fill="none" stroke="#000" stroke-width="1.8"/>
<circle cx="317.1" cy="153.2" r="3.6" fill="none" stroke="#000" stroke-width="1.8"/>
<circle cx="334.4" cy="153.2" r="3.6" fill="none" stroke="#000" stroke-width="1.8"/>
<circle cx="351.7" cy="153.2" r="3.6" fill="none" stroke="#000" stroke-width="1.8"/>
<circle cx="369.0" cy="153.2" r="3.6" fill="none" stroke="#000" stroke-width="1.8"/>
<circle cx="386.2" cy="153.2" r="3.6" fill="none" stroke="#000" stroke-width="1.8"/>
<circle cx="403.5" cy="153.2" r="3.6" fill="none" stroke="#000" stroke-width="1.8"/>
<circle cx="420.8" cy="153.2" r="3.6" fill="none" stroke="#000" stroke-width="1.8"/>
<circle cx="438.1" cy="153.2" r="3.6" fill="none" stroke="#000" stroke-width="1.8"/>
<circle cx="455.4" cy="153.2" r="3.6" fill="none" stroke="#000" stroke-width="1.8"/>
<circle cx="472.7" cy="153.2" r="3.6" fill="none" stroke="#000" stroke-width="1.8"/>
<circle cx="489.9" cy="153.2" r="3.6" fill="none" stroke="#000" stroke-width="1.8"/>
<circle cx="507.2" cy="153.2" r="3.6" fill="none" stroke="#000" stroke-width="1.8"/>
<circle cx="524.5" cy="153.2" r="3.6" fill="none" stroke="#000" stroke-width="1.8"/>
<circle cx="541.8" cy="153.2" r="3.6" fill="none" stroke="#000" stroke-width="1.8"/>
<circle cx="559.1" cy="153.2" r="3.6" fill="none" stroke="#000" stroke-width="1.8"/>
<circle cx="576.4" cy="153.2" r="3.6" fill="none" stroke="#000" stroke-width="1.8"/>
<circle cx="593.6" cy="153.2" r="3.6" fill="none" stroke="#000" stroke-width="1.8"/>
<circle cx="610.9" cy="153.2" r="3.6" fill="none" stroke="#000" stroke-width="1.8"/>
<circle cx="628.2" cy="153.2" r="3.6" fill="none" stroke="#000" stroke-width="1.8"/>
<circle cx="645.5" cy="153.2" r="3.6" fill="none" stroke="#000" stroke-width="1.8"/>
<circle cx="662.8" cy="153.2" r="3.6" fill="none" stroke="#000" stroke-width="1.8"/>
<circle cx="680.1" cy="153.2" r="3.6" fill="none" stroke="#000" stroke-width="1.8"/>
<circle cx="697.3" cy="153.2" r="3.6" fill="none" stroke="#000" stroke-width="1.8"/>
<circle cx="714.6" cy="153.2" r="3.6" fill="none" stroke="#000" stroke-width="1.8"/>
<circle cx="731.9" cy="153.2" r="3.6" fill="none" stroke="#000" stroke-width="1.8"/>
<circle cx="801.0" cy="153.2" r="3.6" fill="none" stroke="#000" stroke-width="1.8"/>
<circle cx="818.3" cy="153.2" r="3.6" fill="none" stroke="#000" stroke-width="1.8"/>
<circle cx="835.6" cy="153.2" r="3.6" fill="none" stroke="#000" stroke-width="1.8"/>
<circle cx="852.9" cy="153.2" r="3.6" fill="none" stroke="#000" stroke-width="1.8"/>
<circle cx="870.2" cy="153.2" r="3.6" fill="none" stroke="#000" stroke-width="1.8"/>
<circle cx="887.5" cy="153.2" r="3.6" fill="none" stroke="#000" stroke-width="1.8"/>
<circle cx="904.7" cy="153.2" r="3.6" fill="none" stroke="#000" stroke-width="1.8"/>
<circle cx="922.0" cy="153.2" r="3.6" fill="none" stroke="#000" stroke-width="1.8"/>
<circle cx="939.3" cy="153.2" r="3.6" fill="none" stroke="#000" stroke-width="1.8"/>
<circle cx="956.6" cy="153.2" r="3.6" fill="none" stroke="#000" stroke-width="1.8"/>
<circle cx="973.9" cy="153.2" r="3.6" fill="none" stroke="#000" stroke-width="1.8"/>
<circle cx="991.1" cy="153.2" r="3.6" fill="none" stroke="#000" stroke-width="1.8"/>
<circle cx="1008.4" cy="153.2" r="3.6" fill="none" stroke="#000" stroke-width="1.8"/>
<circle cx="1025.7" cy="153.2" r="3.6" fill="none" stroke="#000" stroke-width="1.8"/>
<circle cx="1060.3" cy="153.2" r="3.6" fill="none" stroke="#000" stroke-width="1.8"/>
<circle cx="1077.6" cy="153.2" r="3.6" fill="none" stroke="#000" stroke-width="1.8"/>
<circle cx="1094.8" cy="153.2" r="3.6" fill="none" stroke="#000" stroke-width="1.8"/>
<path d="M737.2,148.6 L760.5,157.6 M755.6,156.6 L755.3,161.6" stroke="#000" stroke-width="1.8" fill="none" stroke-linecap="butt"/>
<path d="M754.2,149.3 L776.5,156.6 L773.1,161 L772.6,155.4" stroke="#000" stroke-width="1.8" fill="none" stroke-linecap="butt" stroke-linejoin="miter"/>
<path d="M773.1,161 L793.6,145.2 M790.6,147.6 L793.8,151.4" stroke="#000" stroke-width="1.8" fill="none" stroke-linecap="butt"/>
<path d="M1031.9,147 L1053.6,159.2 M1050.6,157.6 L1048,162.4" stroke="#000" stroke-width="1.8" fill="none" stroke-linecap="butt"/>
<rect x="557.0" y="353.1" width="3.6" height="6.3" fill="#0050ff"/>
<rect x="562.4" y="352.0" width="3.6" height="7.4" fill="#0050ff"/>
<rect x="567.8" y="353.1" width="3.6" height="6.3" fill="#0050ff"/>
<g transform="translate(127.20,98)"><path d="M17.5,2.9 A12.63,12.63 0 1 0 16.3,28.1 A17.43,17.43 0 0 1 17.5,2.9 Z" fill="#fff" stroke="#000" stroke-width="1.6" stroke-linejoin="round"/><circle cx="12.6" cy="22.3" r="3.85" fill="#d4d4d4" stroke="#2d5378" stroke-width="2.70"/><circle cx="21.5" cy="18.0" r="4.40" fill="#d4d4d4" stroke="#2d5378" stroke-width="2.70"/><circle cx="27.7" cy="23.1" r="3.85" fill="#d4d4d4" stroke="#2d5378" stroke-width="2.70"/><rect x="12.6" y="20.0" width="15.10" height="6.95" fill="#d4d4d4" stroke="#2d5378" stroke-width="2.70"/><circle cx="12.6" cy="22.3" r="3.85" fill="#d4d4d4"/><circle cx="21.5" cy="18.0" r="4.40" fill="#d4d4d4"/><circle cx="27.7" cy="23.1" r="3.85" fill="#d4d4d4"/><rect x="12.6" y="20.0" width="15.10" height="6.95" fill="#d4d4d4"/><path d="M23.86,22.76 A3.85,3.85 0 0 1 27.03,19.31" fill="none" stroke="#2d5378" stroke-width="1.35" stroke-linecap="round"/></g>
<g transform="translate(161.70,98)"><polygon points="22.27,9.13 23.32,2.41 20.93,1.98 19.61,8.66" fill="#f4e41e" stroke="#d8b84a" stroke-width="0.5"/><polygon points="25.59,12.46 31.08,8.45 29.69,6.46 24.04,10.25" fill="#f4e41e" stroke="#d8b84a" stroke-width="0.5"/><polygon points="25.57,17.17 32.29,18.22 32.72,15.83 26.04,14.51" fill="#f4e41e" stroke="#d8b84a" stroke-width="0.5"/><polygon points="22.24,20.49 26.25,25.98 28.24,24.59 24.45,18.94" fill="#f4e41e" stroke="#d8b84a" stroke-width="0.5"/><polygon points="17.53,20.47 16.48,27.19 18.87,27.62 20.19,20.94" fill="#f4e41e" stroke="#d8b84a" stroke-width="0.5"/><polygon points="14.21,17.14 8.72,21.15 10.11,23.14 15.76,19.35" fill="#f4e41e" stroke="#d8b84a" stroke-width="0.5"/><polygon points="14.23,12.43 7.51,11.38 7.08,13.77 13.76,15.09" fill="#f4e41e" stroke="#d8b84a" stroke-width="0.5"/><polygon points="17.56,9.11 13.55,3.62 11.56,5.01 15.35,10.66" fill="#f4e41e" stroke="#d8b84a" stroke-width="0.5"/><circle cx="19.9" cy="14.8" r="6.4" fill="#f5e41c" stroke="#f2a93a" stroke-width="1"/><circle cx="5.0" cy="23.7" r="3.45" fill="#d4d4d4" stroke="#1f5fc2" stroke-width="2.70"/><circle cx="11.3" cy="19.6" r="4.05" fill="#d4d4d4" stroke="#1f5fc2" stroke-width="2.70"/><circle cx="18.0" cy="24.0" r="3.65" fill="#d4d4d4" stroke="#1f5fc2" stroke-width="2.70"/><rect x="5.0" y="21.5" width="13.00" height="6.15" fill="#d4d4d4" stroke="#1f5fc2" stroke-width="2.70"/><circle cx="5.0" cy="23.7" r="3.45" fill="#d4d4d4"/><circle cx="11.3" cy="19.6" r="4.05" fill="#d4d4d4"/><circle cx="18.0" cy="24.0" r="3.65" fill="#d4d4d4"/><rect x="5.0" y="21.5" width="13.00" height="6.15" fill="#d4d4d4"/><path d="M14.36,23.68 A3.65,3.65 0 0 1 17.37,20.41" fill="none" stroke="#1f5fc2" stroke-width="1.35" stroke-linecap="round"/></g>
<g transform="translate(196.20,98)"><polygon points="22.27,9.13 23.32,2.41 20.93,1.98 19.61,8.66" fill="#f4e41e" stroke="#d8b84a" stroke-width="0.5"/><polygon points="25.59,12.46 31.08,8.45 29.69,6.46 24.04,10.25" fill="#f4e41e" stroke="#d8b84a" stroke-width="0.5"/><polygon points="25.57,17.17 32.29,18.22 32.72,15.83 26.04,14.51" fill="#f4e41e" stroke="#d8b84a" stroke-width="0.5"/><polygon points="22.24,20.49 26.25,25.98 28.24,24.59 24.45,18.94" fill="#f4e41e" stroke="#d8b84a" stroke-width="0.5"/><polygon points="17.53,20.47 16.48,27.19 18.87,27.62 20.19,20.94" fill="#f4e41e" stroke="#d8b84a" stroke-width="0.5"/><polygon points="14.21,17.14 8.72,21.15 10.11,23.14 15.76,19.35" fill="#f4e41e" stroke="#d8b84a" stroke-width="0.5"/><polygon points="14.23,12.43 7.51,11.38 7.08,13.77 13.76,15.09" fill="#f4e41e" stroke="#d8b84a" stroke-width="0.5"/><polygon points="17.56,9.11 13.55,3.62 11.56,5.01 15.35,10.66" fill="#f4e41e" stroke="#d8b84a" stroke-width="0.5"/><circle cx="19.9" cy="14.8" r="6.4" fill="#f5e41c" stroke="#f2a93a" stroke-width="1"/><circle cx="5.0" cy="23.7" r="3.45" fill="#d4d4d4" stroke="#1f5fc2" stroke-width="2.70"/><circle cx="11.3" cy="19.6" r="4.05" fill="#d4d4d4" stroke="#1f5fc2" stroke-width="2.70"/><circle cx="18.0" cy="24.0" r="3.65" fill="#d4d4d4" stroke="#1f5fc2" stroke-width="2.70"/><rect x="5.0" y="21.5" width="13.00" height="6.15" fill="#d4d4d4" stroke="#1f5fc2" stroke-width="2.70"/><circle cx="5.0" cy="23.7" r="3.45" fill="#d4d4d4"/><circle cx="11.3" cy="19.6" r="4.05" fill="#d4d4d4"/><circle cx="18.0" cy="24.0" r="3.65" fill="#d4d4d4"/><rect x="5.0" y="21.5" width="13.00" height="6.15" fill="#d4d4d4"/><path d="M14.36,23.68 A3.65,3.65 0 0 1 17.37,20.41" fill="none" stroke="#1f5fc2" stroke-width="1.35" stroke-linecap="round"/></g>
<g transform="translate(230.70,98)"><path d="M17.5,2.9 A12.63,12.63 0 1 0 16.3,28.1 A17.43,17.43 0 0 1 17.5,2.9 Z" fill="#fff" stroke="#000" stroke-width="1.6" stroke-linejoin="round"/><circle cx="12.6" cy="22.3" r="3.85" fill="#d4d4d4" stroke="#2d5378" stroke-width="2.70"/><circle cx="21.5" cy="18.0" r="4.40" fill="#d4d4d4" stroke="#2d5378" stroke-width="2.70"/><circle cx="27.7" cy="23.1" r="3.85" fill="#d4d4d4" stroke="#2d5378" stroke-width="2.70"/><rect x="12.6" y="20.0" width="15.10" height="6.95" fill="#d4d4d4" stroke="#2d5378" stroke-width="2.70"/><circle cx="12.6" cy="22.3" r="3.85" fill="#d4d4d4"/><circle cx="21.5" cy="18.0" r="4.40" fill="#d4d4d4"/><circle cx="27.7" cy="23.1" r="3.85" fill="#d4d4d4"/><rect x="12.6" y="20.0" width="15.10" height="6.95" fill="#d4d4d4"/><path d="M23.86,22.76 A3.85,3.85 0 0 1 27.03,19.31" fill="none" stroke="#2d5378" stroke-width="1.35" stroke-linecap="round"/></g>
<g transform="translate(265.20,98)"><path d="M17.5,2.9 A12.63,12.63 0 1 0 16.3,28.1 A17.43,17.43 0 0 1 17.5,2.9 Z" fill="#fff" stroke="#000" stroke-width="1.6" stroke-linejoin="round"/><circle cx="12.6" cy="22.3" r="3.85" fill="#d4d4d4" stroke="#2d5378" stroke-width="2.70"/><circle cx="21.5" cy="18.0" r="4.40" fill="#d4d4d4" stroke="#2d5378" stroke-width="2.70"/><circle cx="27.7" cy="23.1" r="3.85" fill="#d4d4d4" stroke="#2d5378" stroke-width="2.70"/><rect x="12.6" y="20.0" width="15.10" height="6.95" fill="#d4d4d4" stroke="#2d5378" stroke-width="2.70"/><circle cx="12.6" cy="22.3" r="3.85" fill="#d4d4d4"/><circle cx="21.5" cy="18.0" r="4.40" fill="#d4d4d4"/><circle cx="27.7" cy="23.1" r="3.85" fill="#d4d4d4"/><rect x="12.6" y="20.0" width="15.10" height="6.95" fill="#d4d4d4"/><path d="M23.86,22.76 A3.85,3.85 0 0 1 27.03,19.31" fill="none" stroke="#2d5378" stroke-width="1.35" stroke-linecap="round"/></g>
<g transform="translate(299.70,98)"><polygon points="17.17,9.13 18.22,2.41 15.83,1.98 14.51,8.66" fill="#f4e41e" stroke="#d8b84a" stroke-width="0.5"/><polygon points="20.49,12.46 25.98,8.45 24.59,6.46 18.94,10.25" fill="#f4e41e" stroke="#d8b84a" stroke-width="0.5"/><polygon points="20.47,17.17 27.19,18.22 27.62,15.83 20.94,14.51" fill="#f4e41e" stroke="#d8b84a" stroke-width="0.5"/><polygon points="17.14,20.49 21.15,25.98 23.14,24.59 19.35,18.94" fill="#f4e41e" stroke="#d8b84a" stroke-width="0.5"/><polygon points="12.43,20.47 11.38,27.19 13.77,27.62 15.09,20.94" fill="#f4e41e" stroke="#d8b84a" stroke-width="0.5"/><polygon points="9.11,17.14 3.62,21.15 5.01,23.14 10.66,19.35" fill="#f4e41e" stroke="#d8b84a" stroke-width="0.5"/><polygon points="9.13,12.43 2.41,11.38 1.98,13.77 8.66,15.09" fill="#f4e41e" stroke="#d8b84a" stroke-width="0.5"/><polygon points="12.46,9.11 8.45,3.62 6.46,5.01 10.25,10.66" fill="#f4e41e" stroke="#d8b84a" stroke-width="0.5"/><circle cx="14.8" cy="14.8" r="6.1" fill="#f5e41c" stroke="#f2a93a" stroke-width="1"/><circle cx="18.7" cy="23.4" r="2.85" fill="#ffffff" stroke="#1f5fc2" stroke-width="2.70"/><circle cx="24.2" cy="19.6" r="3.05" fill="#ffffff" stroke="#1f5fc2" stroke-width="2.70"/><circle cx="28.8" cy="23.0" r="2.65" fill="#ffffff" stroke="#1f5fc2" stroke-width="2.70"/><rect x="18.7" y="21.5" width="10.10" height="5.05" fill="#ffffff" stroke="#1f5fc2" stroke-width="2.70"/><circle cx="18.7" cy="23.4" r="2.85" fill="#ffffff"/><circle cx="24.2" cy="19.6" r="3.05" fill="#ffffff"/><circle cx="28.8" cy="23.0" r="2.65" fill="#ffffff"/><rect x="18.7" y="21.5" width="10.10" height="5.05" fill="#ffffff"/><path d="M26.16,22.77 A2.65,2.65 0 0 1 28.34,20.39" fill="none" stroke="#1f5fc2" stroke-width="1.35" stroke-linecap="round"/></g>
<g transform="translate(334.20,98)"><polygon points="17.17,9.13 18.22,2.41 15.83,1.98 14.51,8.66" fill="#f4e41e" stroke="#d8b84a" stroke-width="0.5"/><polygon points="20.49,12.46 25.98,8.45 24.59,6.46 18.94,10.25" fill="#f4e41e" stroke="#d8b84a" stroke-width="0.5"/><polygon points="20.47,17.17 27.19,18.22 27.62,15.83 20.94,14.51" fill="#f4e41e" stroke="#d8b84a" stroke-width="0.5"/><polygon points="17.14,20.49 21.15,25.98 23.14,24.59 19.35,18.94" fill="#f4e41e" stroke="#d8b84a" stroke-width="0.5"/><polygon points="12.43,20.47 11.38,27.19 13.77,27.62 15.09,20.94" fill="#f4e41e" stroke="#d8b84a" stroke-width="0.5"/><polygon points="9.11,17.14 3.62,21.15 5.01,23.14 10.66,19.35" fill="#f4e41e" stroke="#d8b84a" stroke-width="0.5"/><polygon points="9.13,12.43 2.41,11.38 1.98,13.77 8.66,15.09" fill="#f4e41e" stroke="#d8b84a" stroke-width="0.5"/><polygon points="12.46,9.11 8.45,3.62 6.46,5.01 10.25,10.66" fill="#f4e41e" stroke="#d8b84a" stroke-width="0.5"/><circle cx="14.8" cy="14.8" r="6.1" fill="#f5e41c" stroke="#f2a93a" stroke-width="1"/><circle cx="18.7" cy="23.4" r="2.85" fill="#ffffff" stroke="#1f5fc2" stroke-width="2.70"/><circle cx="24.2" cy="19.6" r="3.05" fill="#ffffff" stroke="#1f5fc2" stroke-width="2.70"/><circle cx="28.8" cy="23.0" r="2.65" fill="#ffffff" stroke="#1f5fc2" stroke-width="2.70"/><rect x="18.7" y="21.5" width="10.10" height="5.05" fill="#ffffff" stroke="#1f5fc2" stroke-width="2.70"/><circle cx="18.7" cy="23.4" r="2.85" fill="#ffffff"/><circle cx="24.2" cy="19.6" r="3.05" fill="#ffffff"/><circle cx="28.8" cy="23.0" r="2.65" fill="#ffffff"/><rect x="18.7" y="21.5" width="10.10" height="5.05" fill="#ffffff"/><path d="M26.16,22.77 A2.65,2.65 0 0 1 28.34,20.39" fill="none" stroke="#1f5fc2" stroke-width="1.35" stroke-linecap="round"/></g>
<g transform="translate(368.70,98)"><path d="M17.5,2.9 A12.63,12.63 0 1 0 16.3,28.1 A17.43,17.43 0 0 1 17.5,2.9 Z" fill="#fff" stroke="#000" stroke-width="1.6" stroke-linejoin="round"/><circle cx="12.6" cy="22.3" r="3.85" fill="#d4d4d4" stroke="#2d5378" stroke-width="2.70"/><circle cx="21.5" cy="18.0" r="4.40" fill="#d4d4d4" stroke="#2d5378" stroke-width="2.70"/><circle cx="27.7" cy="23.1" r="3.85" fill="#d4d4d4" stroke="#2d5378" stroke-width="2.70"/><rect x="12.6" y="20.0" width="15.10" height="6.95" fill="#d4d4d4" stroke="#2d5378" stroke-width="2.70"/><circle cx="12.6" cy="22.3" r="3.85" fill="#d4d4d4"/><circle cx="21.5" cy="18.0" r="4.40" fill="#d4d4d4"/><circle cx="27.7" cy="23.1" r="3.85" fill="#d4d4d4"/><rect x="12.6" y="20.0" width="15.10" height="6.95" fill="#d4d4d4"/><path d="M23.86,22.76 A3.85,3.85 0 0 1 27.03,19.31" fill="none" stroke="#2d5378" stroke-width="1.35" stroke-linecap="round"/></g>
<g transform="translate(403.20,98)"><path d="M17.5,2.9 A12.63,12.63 0 1 0 16.3,28.1 A17.43,17.43 0 0 1 17.5,2.9 Z" fill="#fff" stroke="#000" stroke-width="1.6" stroke-linejoin="round"/><circle cx="12.6" cy="22.3" r="3.85" fill="#d4d4d4" stroke="#2d5378" stroke-width="2.70"/><circle cx="21.5" cy="18.0" r="4.40" fill="#d4d4d4" stroke="#2d5378" stroke-width="2.70"/><circle cx="27.7" cy="23.1" r="3.85" fill="#d4d4d4" stroke="#2d5378" stroke-width="2.70"/><rect x="12.6" y="20.0" width="15.10" height="6.95" fill="#d4d4d4" stroke="#2d5378" stroke-width="2.70"/><circle cx="12.6" cy="22.3" r="3.85" fill="#d4d4d4"/><circle cx="21.5" cy="18.0" r="4.40" fill="#d4d4d4"/><circle cx="27.7" cy="23.1" r="3.85" fill="#d4d4d4"/><rect x="12.6" y="20.0" width="15.10" height="6.95" fill="#d4d4d4"/><path d="M23.86,22.76 A3.85,3.85 0 0 1 27.03,19.31" fill="none" stroke="#2d5378" stroke-width="1.35" stroke-linecap="round"/></g>
<g transform="translate(437.70,98)"><polygon points="17.17,9.13 18.22,2.41 15.83,1.98 14.51,8.66" fill="#f4e41e" stroke="#d8b84a" stroke-width="0.5"/><polygon points="20.49,12.46 25.98,8.45 24.59,6.46 18.94,10.25" fill="#f4e41e" stroke="#d8b84a" stroke-width="0.5"/><polygon points="20.47,17.17 27.19,18.22 27.62,15.83 20.94,14.51" fill="#f4e41e" stroke="#d8b84a" stroke-width="0.5"/><polygon points="17.14,20.49 21.15,25.98 23.14,24.59 19.35,18.94" fill="#f4e41e" stroke="#d8b84a" stroke-width="0.5"/><polygon points="12.43,20.47 11.38,27.19 13.77,27.62 15.09,20.94" fill="#f4e41e" stroke="#d8b84a" stroke-width="0.5"/><polygon points="9.11,17.14 3.62,21.15 5.01,23.14 10.66,19.35" fill="#f4e41e" stroke="#d8b84a" stroke-width="0.5"/><polygon points="9.13,12.43 2.41,11.38 1.98,13.77 8.66,15.09" fill="#f4e41e" stroke="#d8b84a" stroke-width="0.5"/><polygon points="12.46,9.11 8.45,3.62 6.46,5.01 10.25,10.66" fill="#f4e41e" stroke="#d8b84a" stroke-width="0.5"/><circle cx="14.8" cy="14.8" r="6.1" fill="#f5e41c" stroke="#f2a93a" stroke-width="1"/><circle cx="18.7" cy="23.4" r="2.85" fill="#ffffff" stroke="#1f5fc2" stroke-width="2.70"/><circle cx="24.2" cy="19.6" r="3.05" fill="#ffffff" stroke="#1f5fc2" stroke-width="2.70"/><circle cx="28.8" cy="23.0" r="2.65" fill="#ffffff" stroke="#1f5fc2" stroke-width="2.70"/><rect x="18.7" y="21.5" width="10.10" height="5.05" fill="#ffffff" stroke="#1f5fc2" stroke-width="2.70"/><circle cx="18.7" cy="23.4" r="2.85" fill="#ffffff"/><circle cx="24.2" cy="19.6" r="3.05" fill="#ffffff"/><circle cx="28.8" cy="23.0" r="2.65" fill="#ffffff"/><rect x="18.7" y="21.5" width="10.10" height="5.05" fill="#ffffff"/><path d="M26.16,22.77 A2.65,2.65 0 0 1 28.34,20.39" fill="none" stroke="#1f5fc2" stroke-width="1.35" stroke-linecap="round"/></g>
<g transform="translate(472.20,98)"><polygon points="17.17,9.13 18.22,2.41 15.83,1.98 14.51,8.66" fill="#f4e41e" stroke="#d8b84a" stroke-width="0.5"/><polygon points="20.49,12.46 25.98,8.45 24.59,6.46 18.94,10.25" fill="#f4e41e" stroke="#d8b84a" stroke-width="0.5"/><polygon points="20.47,17.17 27.19,18.22 27.62,15.83 20.94,14.51" fill="#f4e41e" stroke="#d8b84a" stroke-width="0.5"/><polygon points="17.14,20.49 21.15,25.98 23.14,24.59 19.35,18.94" fill="#f4e41e" stroke="#d8b84a" stroke-width="0.5"/><polygon points="12.43,20.47 11.38,27.19 13.77,27.62 15.09,20.94" fill="#f4e41e" stroke="#d8b84a" stroke-width="0.5"/><polygon points="9.11,17.14 3.62,21.15 5.01,23.14 10.66,19.35" fill="#f4e41e" stroke="#d8b84a" stroke-width="0.5"/><polygon points="9.13,12.43 2.41,11.38 1.98,13.77 8.66,15.09" fill="#f4e41e" stroke="#d8b84a" stroke-width="0.5"/><polygon points="12.46,9.11 8.45,3.62 6.46,5.01 10.25,10.66" fill="#f4e41e" stroke="#d8b84a" stroke-width="0.5"/><circle cx="14.8" cy="14.8" r="6.1" fill="#f5e41c" stroke="#f2a93a" stroke-width="1"/><circle cx="18.7" cy="23.4" r="2.85" fill="#ffffff" stroke="#1f5fc2" stroke-width="2.70"/><circle cx="24.2" cy="19.6" r="3.05" fill="#ffffff" stroke="#1f5fc2" stroke-width="2.70"/><circle cx="28.8" cy="23.0" r="2.65" fill="#ffffff" stroke="#1f5fc2" stroke-width="2.70"/><rect x="18.7" y="21.5" width="10.10" height="5.05" fill="#ffffff" stroke="#1f5fc2" stroke-width="2.70"/><circle cx="18.7" cy="23.4" r="2.85" fill="#ffffff"/><circle cx="24.2" cy="19.6" r="3.05" fill="#ffffff"/><circle cx="28.8" cy="23.0" r="2.65" fill="#ffffff"/><rect x="18.7" y="21.5" width="10.10" height="5.05" fill="#ffffff"/><path d="M26.16,22.77 A2.65,2.65 0 0 1 28.34,20.39" fill="none" stroke="#1f5fc2" stroke-width="1.35" stroke-linecap="round"/></g>
<g transform="translate(506.70,98)"><path d="M21.4,3 A12.58,12.58 0 1 0 20.7,28.1 A17.76,17.76 0 0 1 21.4,3 Z" fill="#fff" stroke="#000" stroke-width="1.6" stroke-linejoin="round"/><circle cx="16.2" cy="23.4" r="2.75" fill="#d4d4d4" stroke="#2d5378" stroke-width="2.70"/><circle cx="21.5" cy="19.8" r="3.15" fill="#d4d4d4" stroke="#2d5378" stroke-width="2.70"/><circle cx="26.6" cy="23.0" r="2.75" fill="#d4d4d4" stroke="#2d5378" stroke-width="2.70"/><rect x="16.2" y="21.8" width="10.40" height="4.75" fill="#d4d4d4" stroke="#2d5378" stroke-width="2.70"/><circle cx="16.2" cy="23.4" r="2.75" fill="#d4d4d4"/><circle cx="21.5" cy="19.8" r="3.15" fill="#d4d4d4"/><circle cx="26.6" cy="23.0" r="2.75" fill="#d4d4d4"/><rect x="16.2" y="21.8" width="10.40" height="4.75" fill="#d4d4d4"/><path d="M23.86,22.76 A2.75,2.75 0 0 1 26.12,20.29" fill="none" stroke="#2d5378" stroke-width="1.35" stroke-linecap="round"/></g>
<g transform="translate(541.20,98)"><path d="M18.6,2.9 A12.79,12.79 0 1 0 16.5,28.4 A20.09,20.09 0 0 1 18.6,2.9 Z" fill="#fff" stroke="#000" stroke-width="1.6" stroke-linejoin="round"/><circle cx="13.8" cy="22.6" r="3.05" fill="#d4d4d4" stroke="#2d5378" stroke-width="2.70"/><circle cx="20.0" cy="18.0" r="3.45" fill="#d4d4d4" stroke="#2d5378" stroke-width="2.70"/><circle cx="27.0" cy="21.8" r="2.95" fill="#d4d4d4" stroke="#2d5378" stroke-width="2.70"/><rect x="13.8" y="20.0" width="13.20" height="6.25" fill="#d4d4d4" stroke="#2d5378" stroke-width="2.70"/><circle cx="13.8" cy="22.6" r="3.05" fill="#d4d4d4"/><circle cx="20.0" cy="18.0" r="3.45" fill="#d4d4d4"/><circle cx="27.0" cy="21.8" r="2.95" fill="#d4d4d4"/><rect x="13.8" y="20.0" width="13.20" height="6.25" fill="#d4d4d4"/><path d="M24.06,21.54 A2.95,2.95 0 0 1 26.49,18.89" fill="none" stroke="#2d5378" stroke-width="1.35" stroke-linecap="round"/><line x1="21.2" y1="29.5" x2="19.6" y2="34" stroke="#2d5378" stroke-width="1.7"/><line x1="26.2" y1="29.5" x2="24.6" y2="34" stroke="#2d5378" stroke-width="1.7"/></g>
<g transform="translate(575.70,98)"><polygon points="22.27,9.13 23.32,2.41 20.93,1.98 19.61,8.66" fill="#f4e41e" stroke="#d8b84a" stroke-width="0.5"/><polygon points="25.59,12.46 31.08,8.45 29.69,6.46 24.04,10.25" fill="#f4e41e" stroke="#d8b84a" stroke-width="0.5"/><polygon points="25.57,17.17 32.29,18.22 32.72,15.83 26.04,14.51" fill="#f4e41e" stroke="#d8b84a" stroke-width="0.5"/><polygon points="22.24,20.49 26.25,25.98 28.24,24.59 24.45,18.94" fill="#f4e41e" stroke="#d8b84a" stroke-width="0.5"/><polygon points="17.53,20.47 16.48,27.19 18.87,27.62 20.19,20.94" fill="#f4e41e" stroke="#d8b84a" stroke-width="0.5"/><polygon points="14.21,17.14 8.72,21.15 10.11,23.14 15.76,19.35" fill="#f4e41e" stroke="#d8b84a" stroke-width="0.5"/><polygon points="14.23,12.43 7.51,11.38 7.08,13.77 13.76,15.09" fill="#f4e41e" stroke="#d8b84a" stroke-width="0.5"/><polygon points="17.56,9.11 13.55,3.62 11.56,5.01 15.35,10.66" fill="#f4e41e" stroke="#d8b84a" stroke-width="0.5"/><circle cx="19.9" cy="14.8" r="6.4" fill="#f5e41c" stroke="#f2a93a" stroke-width="1"/><circle cx="5.0" cy="23.7" r="3.45" fill="#d4d4d4" stroke="#1f5fc2" stroke-width="2.70"/><circle cx="11.3" cy="19.6" r="4.05" fill="#d4d4d4" stroke="#1f5fc2" stroke-width="2.70"/><circle cx="18.0" cy="24.0" r="3.65" fill="#d4d4d4" stroke="#1f5fc2" stroke-width="2.70"/><rect x="5.0" y="21.5" width="13.00" height="6.15" fill="#d4d4d4" stroke="#1f5fc2" stroke-width="2.70"/><circle cx="5.0" cy="23.7" r="3.45" fill="#d4d4d4"/><circle cx="11.3" cy="19.6" r="4.05" fill="#d4d4d4"/><circle cx="18.0" cy="24.0" r="3.65" fill="#d4d4d4"/><rect x="5.0" y="21.5" width="13.00" height="6.15" fill="#d4d4d4"/><path d="M14.36,23.68 A3.65,3.65 0 0 1 17.37,20.41" fill="none" stroke="#1f5fc2" stroke-width="1.35" stroke-linecap="round"/></g>
<g transform="translate(610.20,98)"><polygon points="17.17,9.13 18.22,2.41 15.83,1.98 14.51,8.66" fill="#f4e41e" stroke="#d8b84a" stroke-width="0.5"/><polygon points="20.49,12.46 25.98,8.45 24.59,6.46 18.94,10.25" fill="#f4e41e" stroke="#d8b84a" stroke-width="0.5"/><polygon points="20.47,17.17 27.19,18.22 27.62,15.83 20.94,14.51" fill="#f4e41e" stroke="#d8b84a" stroke-width="0.5"/><polygon points="17.14,20.49 21.15,25.98 23.14,24.59 19.35,18.94" fill="#f4e41e" stroke="#d8b84a" stroke-width="0.5"/><polygon points="12.43,20.47 11.38,27.19 13.77,27.62 15.09,20.94" fill="#f4e41e" stroke="#d8b84a" stroke-width="0.5"/><polygon points="9.11,17.14 3.62,21.15 5.01,23.14 10.66,19.35" fill="#f4e41e" stroke="#d8b84a" stroke-width="0.5"/><polygon points="9.13,12.43 2.41,11.38 1.98,13.77 8.66,15.09" fill="#f4e41e" stroke="#d8b84a" stroke-width="0.5"/><polygon points="12.46,9.11 8.45,3.62 6.46,5.01 10.25,10.66" fill="#f4e41e" stroke="#d8b84a" stroke-width="0.5"/><circle cx="14.8" cy="14.8" r="6.1" fill="#f5e41c" stroke="#f2a93a" stroke-width="1"/><circle cx="18.7" cy="23.4" r="2.85" fill="#ffffff" stroke="#1f5fc2" stroke-width="2.70"/><circle cx="24.2" cy="19.6" r="3.05" fill="#ffffff" stroke="#1f5fc2" stroke-width="2.70"/><circle cx="28.8" cy="23.0" r="2.65" fill="#ffffff" stroke="#1f5fc2" stroke-width="2.70"/><rect x="18.7" y="21.5" width="10.10" height="5.05" fill="#ffffff" stroke="#1f5fc2" stroke-width="2.70"/><circle cx="18.7" cy="23.4" r="2.85" fill="#ffffff"/><circle cx="24.2" cy="19.6" r="3.05" fill="#ffffff"/><circle cx="28.8" cy="23.0" r="2.65" fill="#ffffff"/><rect x="18.7" y="21.5" width="10.10" height="5.05" fill="#ffffff"/><path d="M26.16,22.77 A2.65,2.65 0 0 1 28.34,20.39" fill="none" stroke="#1f5fc2" stroke-width="1.35" stroke-linecap="round"/></g>
<g transform="translate(644.70,98)"><path d="M24.6,3 A12.50,12.50 0 1 0 24.6,27.8 A16.16,16.16 0 0 1 24.6,3 Z" fill="#fff" stroke="#000" stroke-width="1.6" stroke-linejoin="round"/></g>
<g transform="translate(679.20,98)"><path d="M21.4,3 A12.58,12.58 0 1 0 20.7,28.1 A17.76,17.76 0 0 1 21.4,3 Z" fill="#fff" stroke="#000" stroke-width="1.6" stroke-linejoin="round"/><circle cx="16.2" cy="23.4" r="2.75" fill="#d4d4d4" stroke="#2d5378" stroke-width="2.70"/><circle cx="21.5" cy="19.8" r="3.15" fill="#d4d4d4" stroke="#2d5378" stroke-width="2.70"/><circle cx="26.6" cy="23.0" r="2.75" fill="#d4d4d4" stroke="#2d5378" stroke-width="2.70"/><rect x="16.2" y="21.8" width="10.40" height="4.75" fill="#d4d4d4" stroke="#2d5378" stroke-width="2.70"/><circle cx="16.2" cy="23.4" r="2.75" fill="#d4d4d4"/><circle cx="21.5" cy="19.8" r="3.15" fill="#d4d4d4"/><circle cx="26.6" cy="23.0" r="2.75" fill="#d4d4d4"/><rect x="16.2" y="21.8" width="10.40" height="4.75" fill="#d4d4d4"/><path d="M23.86,22.76 A2.75,2.75 0 0 1 26.12,20.29" fill="none" stroke="#2d5378" stroke-width="1.35" stroke-linecap="round"/></g>
<g transform="translate(713.70,98)"><polygon points="17.17,9.13 18.22,2.41 15.83,1.98 14.51,8.66" fill="#f4e41e" stroke="#d8b84a" stroke-width="0.5"/><polygon points="20.49,12.46 25.98,8.45 24.59,6.46 18.94,10.25" fill="#f4e41e" stroke="#d8b84a" stroke-width="0.5"/><polygon points="20.47,17.17 27.19,18.22 27.62,15.83 20.94,14.51" fill="#f4e41e" stroke="#d8b84a" stroke-width="0.5"/><polygon points="17.14,20.49 21.15,25.98 23.14,24.59 19.35,18.94" fill="#f4e41e" stroke="#d8b84a" stroke-width="0.5"/><polygon points="12.43,20.47 11.38,27.19 13.77,27.62 15.09,20.94" fill="#f4e41e" stroke="#d8b84a" stroke-width="0.5"/><polygon points="9.11,17.14 3.62,21.15 5.01,23.14 10.66,19.35" fill="#f4e41e" stroke="#d8b84a" stroke-width="0.5"/><polygon points="9.13,12.43 2.41,11.38 1.98,13.77 8.66,15.09" fill="#f4e41e" stroke="#d8b84a" stroke-width="0.5"/><polygon points="12.46,9.11 8.45,3.62 6.46,5.01 10.25,10.66" fill="#f4e41e" stroke="#d8b84a" stroke-width="0.5"/><circle cx="14.8" cy="14.8" r="6.1" fill="#f5e41c" stroke="#f2a93a" stroke-width="1"/><circle cx="18.7" cy="23.4" r="2.85" fill="#ffffff" stroke="#1f5fc2" stroke-width="2.70"/><circle cx="24.2" cy="19.6" r="3.05" fill="#ffffff" stroke="#1f5fc2" stroke-width="2.70"/><circle cx="28.8" cy="23.0" r="2.65" fill="#ffffff" stroke="#1f5fc2" stroke-width="2.70"/><rect x="18.7" y="21.5" width="10.10" height="5.05" fill="#ffffff" stroke="#1f5fc2" stroke-width="2.70"/><circle cx="18.7" cy="23.4" r="2.85" fill="#ffffff"/><circle cx="24.2" cy="19.6" r="3.05" fill="#ffffff"/><circle cx="28.8" cy="23.0" r="2.65" fill="#ffffff"/><rect x="18.7" y="21.5" width="10.10" height="5.05" fill="#ffffff"/><path d="M26.16,22.77 A2.65,2.65 0 0 1 28.34,20.39" fill="none" stroke="#1f5fc2" stroke-width="1.35" stroke-linecap="round"/></g>
<g transform="translate(748.20,98)"><polygon points="20.47,9.53 21.52,2.81 19.13,2.38 17.81,9.06" fill="#f4e41e" stroke="#d8b84a" stroke-width="0.5"/><polygon points="23.79,12.86 29.28,8.85 27.89,6.86 22.24,10.65" fill="#f4e41e" stroke="#d8b84a" stroke-width="0.5"/><polygon points="23.77,17.57 30.49,18.62 30.92,16.23 24.24,14.91" fill="#f4e41e" stroke="#d8b84a" stroke-width="0.5"/><polygon points="20.44,20.89 24.45,26.38 26.44,24.99 22.65,19.34" fill="#f4e41e" stroke="#d8b84a" stroke-width="0.5"/><polygon points="15.73,20.87 14.68,27.59 17.07,28.02 18.39,21.34" fill="#f4e41e" stroke="#d8b84a" stroke-width="0.5"/><polygon points="12.41,17.54 6.92,21.55 8.31,23.54 13.96,19.75" fill="#f4e41e" stroke="#d8b84a" stroke-width="0.5"/><polygon points="12.43,12.83 5.71,11.78 5.28,14.17 11.96,15.49" fill="#f4e41e" stroke="#d8b84a" stroke-width="0.5"/><polygon points="15.76,9.51 11.75,4.02 9.76,5.41 13.55,11.06" fill="#f4e41e" stroke="#d8b84a" stroke-width="0.5"/><circle cx="18.1" cy="15.2" r="6.5" fill="#f5e41c" stroke="#f2a93a" stroke-width="1"/></g>
<g transform="translate(782.70,98)"><path d="M24.6,3 A12.50,12.50 0 1 0 24.6,27.8 A16.16,16.16 0 0 1 24.6,3 Z" fill="#fff" stroke="#000" stroke-width="1.6" stroke-linejoin="round"/></g>
<g transform="translate(817.20,98)"><path d="M21.4,3 A12.58,12.58 0 1 0 20.7,28.1 A17.76,17.76 0 0 1 21.4,3 Z" fill="#fff" stroke="#000" stroke-width="1.6" stroke-linejoin="round"/><circle cx="16.2" cy="23.4" r="2.75" fill="#d4d4d4" stroke="#2d5378" stroke-width="2.70"/><circle cx="21.5" cy="19.8" r="3.15" fill="#d4d4d4" stroke="#2d5378" stroke-width="2.70"/><circle cx="26.6" cy="23.0" r="2.75" fill="#d4d4d4" stroke="#2d5378" stroke-width="2.70"/><rect x="16.2" y="21.8" width="10.40" height="4.75" fill="#d4d4d4" stroke="#2d5378" stroke-width="2.70"/><circle cx="16.2" cy="23.4" r="2.75" fill="#d4d4d4"/><circle cx="21.5" cy="19.8" r="3.15" fill="#d4d4d4"/><circle cx="26.6" cy="23.0" r="2.75" fill="#d4d4d4"/><rect x="16.2" y="21.8" width="10.40" height="4.75" fill="#d4d4d4"/><path d="M23.86,22.76 A2.75,2.75 0 0 1 26.12,20.29" fill="none" stroke="#2d5378" stroke-width="1.35" stroke-linecap="round"/></g>
<g transform="translate(851.70,98)"><polygon points="20.47,9.53 21.52,2.81 19.13,2.38 17.81,9.06" fill="#f4e41e" stroke="#d8b84a" stroke-width="0.5"/><polygon points="23.79,12.86 29.28,8.85 27.89,6.86 22.24,10.65" fill="#f4e41e" stroke="#d8b84a" stroke-width="0.5"/><polygon points="23.77,17.57 30.49,18.62 30.92,16.23 24.24,14.91" fill="#f4e41e" stroke="#d8b84a" stroke-width="0.5"/><polygon points="20.44,20.89 24.45,26.38 26.44,24.99 22.65,19.34" fill="#f4e41e" stroke="#d8b84a" stroke-width="0.5"/><polygon points="15.73,20.87 14.68,27.59 17.07,28.02 18.39,21.34" fill="#f4e41e" stroke="#d8b84a" stroke-width="0.5"/><polygon points="12.41,17.54 6.92,21.55 8.31,23.54 13.96,19.75" fill="#f4e41e" stroke="#d8b84a" stroke-width="0.5"/><polygon points="12.43,12.83 5.71,11.78 5.28,14.17 11.96,15.49" fill="#f4e41e" stroke="#d8b84a" stroke-width="0.5"/><polygon points="15.76,9.51 11.75,4.02 9.76,5.41 13.55,11.06" fill="#f4e41e" stroke="#d8b84a" stroke-width="0.5"/><circle cx="18.1" cy="15.2" r="6.5" fill="#f5e41c" stroke="#f2a93a" stroke-width="1"/></g>
<g transform="translate(886.20,98)"><polygon points="20.47,9.53 21.52,2.81 19.13,2.38 17.81,9.06" fill="#f4e41e" stroke="#d8b84a" stroke-width="0.5"/><polygon points="23.79,12.86 29.28,8.85 27.89,6.86 22.24,10.65" fill="#f4e41e" stroke="#d8b84a" stroke-width="0.5"/><polygon points="23.77,17.57 30.49,18.62 30.92,16.23 24.24,14.91" fill="#f4e41e" stroke="#d8b84a" stroke-width="0.5"/><polygon points="20.44,20.89 24.45,26.38 26.44,24.99 22.65,19.34" fill="#f4e41e" stroke="#d8b84a" stroke-width="0.5"/><polygon points="15.73,20.87 14.68,27.59 17.07,28.02 18.39,21.34" fill="#f4e41e" stroke="#d8b84a" stroke-width="0.5"/><polygon points="12.41,17.54 6.92,21.55 8.31,23.54 13.96,19.75" fill="#f4e41e" stroke="#d8b84a" stroke-width="0.5"/><polygon points="12.43,12.83 5.71,11.78 5.28,14.17 11.96,15.49" fill="#f4e41e" stroke="#d8b84a" stroke-width="0.5"/><polygon points="15.76,9.51 11.75,4.02 9.76,5.41 13.55,11.06" fill="#f4e41e" stroke="#d8b84a" stroke-width="0.5"/><circle cx="18.1" cy="15.2" r="6.5" fill="#f5e41c" stroke="#f2a93a" stroke-width="1"/></g>
<g transform="translate(920.70,98)"><path d="M21.4,3 A12.58,12.58 0 1 0 20.7,28.1 A17.76,17.76 0 0 1 21.4,3 Z" fill="#fff" stroke="#000" stroke-width="1.6" stroke-linejoin="round"/><circle cx="16.2" cy="23.4" r="2.75" fill="#d4d4d4" stroke="#2d5378" stroke-width="2.70"/><circle cx="21.5" cy="19.8" r="3.15" fill="#d4d4d4" stroke="#2d5378" stroke-width="2.70"/><circle cx="26.6" cy="23.0" r="2.75" fill="#d4d4d4" stroke="#2d5378" stroke-width="2.70"/><rect x="16.2" y="21.8" width="10.40" height="4.75" fill="#d4d4d4" stroke="#2d5378" stroke-width="2.70"/><circle cx="16.2" cy="23.4" r="2.75" fill="#d4d4d4"/><circle cx="21.5" cy="19.8" r="3.15" fill="#d4d4d4"/><circle cx="26.6" cy="23.0" r="2.75" fill="#d4d4d4"/><rect x="16.2" y="21.8" width="10.40" height="4.75" fill="#d4d4d4"/><path d="M23.86,22.76 A2.75,2.75 0 0 1 26.12,20.29" fill="none" stroke="#2d5378" stroke-width="1.35" stroke-linecap="round"/></g>
<g transform="translate(955.20,98)"><path d="M21.4,3 A12.58,12.58 0 1 0 20.7,28.1 A17.76,17.76 0 0 1 21.4,3 Z" fill="#fff" stroke="#000" stroke-width="1.6" stroke-linejoin="round"/><circle cx="16.2" cy="23.4" r="2.75" fill="#d4d4d4" stroke="#2d5378" stroke-width="2.70"/><circle cx="21.5" cy="19.8" r="3.15" fill="#d4d4d4" stroke="#2d5378" stroke-width="2.70"/><circle cx="26.6" cy="23.0" r="2.75" fill="#d4d4d4" stroke="#2d5378" stroke-width="2.70"/><rect x="16.2" y="21.8" width="10.40" height="4.75" fill="#d4d4d4" stroke="#2d5378" stroke-width="2.70"/><circle cx="16.2" cy="23.4" r="2.75" fill="#d4d4d4"/><circle cx="21.5" cy="19.8" r="3.15" fill="#d4d4d4"/><circle cx="26.6" cy="23.0" r="2.75" fill="#d4d4d4"/><rect x="16.2" y="21.8" width="10.40" height="4.75" fill="#d4d4d4"/><path d="M23.86,22.76 A2.75,2.75 0 0 1 26.12,20.29" fill="none" stroke="#2d5378" stroke-width="1.35" stroke-linecap="round"/></g>
<g transform="translate(989.70,98)"><polygon points="17.17,9.13 18.22,2.41 15.83,1.98 14.51,8.66" fill="#f4e41e" stroke="#d8b84a" stroke-width="0.5"/><polygon points="20.49,12.46 25.98,8.45 24.59,6.46 18.94,10.25" fill="#f4e41e" stroke="#d8b84a" stroke-width="0.5"/><polygon points="20.47,17.17 27.19,18.22 27.62,15.83 20.94,14.51" fill="#f4e41e" stroke="#d8b84a" stroke-width="0.5"/><polygon points="17.14,20.49 21.15,25.98 23.14,24.59 19.35,18.94" fill="#f4e41e" stroke="#d8b84a" stroke-width="0.5"/><polygon points="12.43,20.47 11.38,27.19 13.77,27.62 15.09,20.94" fill="#f4e41e" stroke="#d8b84a" stroke-width="0.5"/><polygon points="9.11,17.14 3.62,21.15 5.01,23.14 10.66,19.35" fill="#f4e41e" stroke="#d8b84a" stroke-width="0.5"/><polygon points="9.13,12.43 2.41,11.38 1.98,13.77 8.66,15.09" fill="#f4e41e" stroke="#d8b84a" stroke-width="0.5"/><polygon points="12.46,9.11 8.45,3.62 6.46,5.01 10.25,10.66" fill="#f4e41e" stroke="#d8b84a" stroke-width="0.5"/><circle cx="14.8" cy="14.8" r="6.1" fill="#f5e41c" stroke="#f2a93a" stroke-width="1"/><circle cx="18.7" cy="23.4" r="2.85" fill="#ffffff" stroke="#1f5fc2" stroke-width="2.70"/><circle cx="24.2" cy="19.6" r="3.05" fill="#ffffff" stroke="#1f5fc2" stroke-width="2.70"/><circle cx="28.8" cy="23.0" r="2.65" fill="#ffffff" stroke="#1f5fc2" stroke-width="2.70"/><rect x="18.7" y="21.5" width="10.10" height="5.05" fill="#ffffff" stroke="#1f5fc2" stroke-width="2.70"/><circle cx="18.7" cy="23.4" r="2.85" fill="#ffffff"/><circle cx="24.2" cy="19.6" r="3.05" fill="#ffffff"/><circle cx="28.8" cy="23.0" r="2.65" fill="#ffffff"/><rect x="18.7" y="21.5" width="10.10" height="5.05" fill="#ffffff"/><path d="M26.16,22.77 A2.65,2.65 0 0 1 28.34,20.39" fill="none" stroke="#1f5fc2" stroke-width="1.35" stroke-linecap="round"/></g>
<g transform="translate(1024.20,98)"><polygon points="17.17,9.13 18.22,2.41 15.83,1.98 14.51,8.66" fill="#f4e41e" stroke="#d8b84a" stroke-width="0.5"/><polygon points="20.49,12.46 25.98,8.45 24.59,6.46 18.94,10.25" fill="#f4e41e" stroke="#d8b84a" stroke-width="0.5"/><polygon points="20.47,17.17 27.19,18.22 27.62,15.83 20.94,14.51" fill="#f4e41e" stroke="#d8b84a" stroke-width="0.5"/><polygon points="17.14,20.49 21.15,25.98 23.14,24.59 19.35,18.94" fill="#f4e41e" stroke="#d8b84a" stroke-width="0.5"/><polygon points="12.43,20.47 11.38,27.19 13.77,27.62 15.09,20.94" fill="#f4e41e" stroke="#d8b84a" stroke-width="0.5"/><polygon points="9.11,17.14 3.62,21.15 5.01,23.14 10.66,19.35" fill="#f4e41e" stroke="#d8b84a" stroke-width="0.5"/><polygon points="9.13,12.43 2.41,11.38 1.98,13.77 8.66,15.09" fill="#f4e41e" stroke="#d8b84a" stroke-width="0.5"/><polygon points="12.46,9.11 8.45,3.62 6.46,5.01 10.25,10.66" fill="#f4e41e" stroke="#d8b84a" stroke-width="0.5"/><circle cx="14.8" cy="14.8" r="6.1" fill="#f5e41c" stroke="#f2a93a" stroke-width="1"/><circle cx="18.7" cy="23.4" r="2.85" fill="#ffffff" stroke="#1f5fc2" stroke-width="2.70"/><circle cx="24.2" cy="19.6" r="3.05" fill="#ffffff" stroke="#1f5fc2" stroke-width="2.70"/><circle cx="28.8" cy="23.0" r="2.65" fill="#ffffff" stroke="#1f5fc2" stroke-width="2.70"/><rect x="18.7" y="21.5" width="10.10" height="5.05" fill="#ffffff" stroke="#1f5fc2" stroke-width="2.70"/><circle cx="18.7" cy="23.4" r="2.85" fill="#ffffff"/><circle cx="24.2" cy="19.6" r="3.05" fill="#ffffff"/><circle cx="28.8" cy="23.0" r="2.65" fill="#ffffff"/><rect x="18.7" y="21.5" width="10.10" height="5.05" fill="#ffffff"/><path d="M26.16,22.77 A2.65,2.65 0 0 1 28.34,20.39" fill="none" stroke="#1f5fc2" stroke-width="1.35" stroke-linecap="round"/></g>
<g transform="translate(1058.70,98)"><path d="M21.4,3 A12.58,12.58 0 1 0 20.7,28.1 A17.76,17.76 0 0 1 21.4,3 Z" fill="#fff" stroke="#000" stroke-width="1.6" stroke-linejoin="round"/><circle cx="16.2" cy="23.4" r="2.75" fill="#d4d4d4" stroke="#2d5378" stroke-width="2.70"/><circle cx="21.5" cy="19.8" r="3.15" fill="#d4d4d4" stroke="#2d5378" stroke-width="2.70"/><circle cx="26.6" cy="23.0" r="2.75" fill="#d4d4d4" stroke="#2d5378" stroke-width="2.70"/><rect x="16.2" y="21.8" width="10.40" height="4.75" fill="#d4d4d4" stroke="#2d5378" stroke-width="2.70"/><circle cx="16.2" cy="23.4" r="2.75" fill="#d4d4d4"/><circle cx="21.5" cy="19.8" r="3.15" fill="#d4d4d4"/><circle cx="26.6" cy="23.0" r="2.75" fill="#d4d4d4"/><rect x="16.2" y="21.8" width="10.40" height="4.75" fill="#d4d4d4"/><path d="M23.86,22.76 A2.75,2.75 0 0 1 26.12,20.29" fill="none" stroke="#2d5378" stroke-width="1.35" stroke-linecap="round"/></g>
<line x1="220" y1="97" x2="220" y2="359" stroke="#000" stroke-width="2" stroke-dasharray="5.5 2.4"/>
<rect x="126.8" y="390.3" width="32.1" height="10.4" fill="#0048ff"/>
<text x="166.6" y="401.7" font-family="'DejaVu Sans',sans-serif" font-size="16" >Precipitation</text>
<rect x="278" y="390.3" width="32.1" height="10.4" fill="#12d6c4"/>
<text x="317.3" y="401.7" font-family="'DejaVu Sans',sans-serif" font-size="16" >Showers</text>
<text x="579.5" y="401.5" font-family="'Liberation Sans',Arial,sans-serif" font-size="16" fill="#0000ff">© vreme.us &amp; vreme.pro</text>
<rect x="759.5" y="386" width="180.5" height="19.7" fill="#fff"/>
<text x="760" y="401.7" font-family="'Liberation Sans',Arial,sans-serif" font-size="19">Gostota oblakov (%)</text>
<rect x="949.40" y="385.2" width="29.1" height="13.2" fill="#d3d3d3"/>
<rect x="978.44" y="385.2" width="29.1" height="13.2" fill="#b1b1b1"/>
<rect x="1007.48" y="385.2" width="29.1" height="13.2" fill="#929292"/>
<rect x="1036.52" y="385.2" width="29.1" height="13.2" fill="#737373"/>
<rect x="1065.56" y="385.2" width="29.1" height="13.2" fill="#585858"/>
<rect x="949.4" y="385.2" width="145.2" height="13.2" fill="none" stroke="#000" stroke-width="1"/>
<text x="949.8" y="414.9" font-family="'DejaVu Sans',sans-serif" font-size="16.2" text-anchor="middle">10</text>
<text x="977.2" y="414.9" font-family="'DejaVu Sans',sans-serif" font-size="16.2" text-anchor="middle">25</text>
<text x="1006.5" y="414.9" font-family="'DejaVu Sans',sans-serif" font-size="16.2" text-anchor="middle">50</text>
<text x="1035.3" y="414.9" font-family="'DejaVu Sans',sans-serif" font-size="16.2" text-anchor="middle">75</text>
<text x="1064.9" y="414.9" font-family="'DejaVu Sans',sans-serif" font-size="16.2" text-anchor="middle">90</text>
<text x="1095.0" y="414.9" font-family="'DejaVu Sans',sans-serif" font-size="16.2" text-anchor="middle">100</text>
</svg>
</body></html>
